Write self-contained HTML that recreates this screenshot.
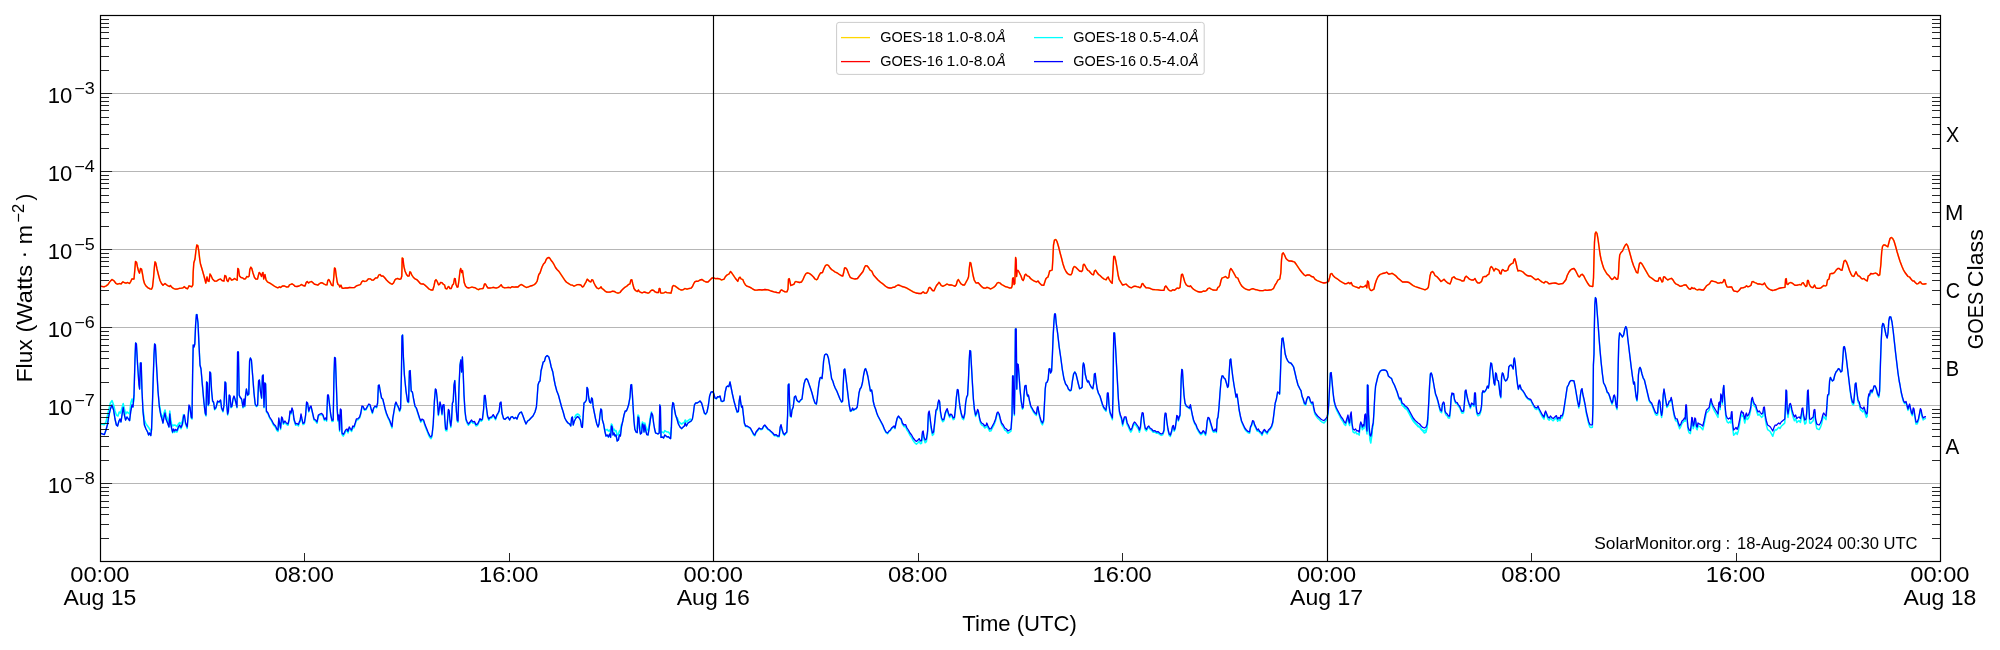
<!DOCTYPE html>
<html><head><meta charset="utf-8"><title>GOES X-ray Flux</title>
<style>html,body{margin:0;padding:0;background:#fff;overflow:hidden}body{width:2000px;height:650px;font-family:"Liberation Sans",sans-serif}svg{display:block;will-change:transform}</style></head>
<body>
<svg width="2000" height="650" viewBox="0 0 2000 650">
<rect width="2000" height="650" fill="#fff"/>
<g stroke="#b6b6b6" stroke-width="1" fill="none">
<line x1="100.5" x2="1940.5" y1="483.5" y2="483.5"/>
<line x1="100.5" x2="1940.5" y1="405.5" y2="405.5"/>
<line x1="100.5" x2="1940.5" y1="327.5" y2="327.5"/>
<line x1="100.5" x2="1940.5" y1="249.5" y2="249.5"/>
<line x1="100.5" x2="1940.5" y1="171.5" y2="171.5"/>
<line x1="100.5" x2="1940.5" y1="93.5" y2="93.5"/>
</g>
<polyline points="100.5,286.2 104.0,286.8 106.0,286.0 108.0,284.5 110.0,281.5 112.0,279.5 114.0,280.8 116.0,283.5 117.5,284.2 119.5,283.5 121.0,284.0 122.8,281.8 124.5,282.7 126.0,283.2 127.5,282.5 129.5,283.5 130.5,282.0 132.0,278.8 134.0,279.0 134.8,270.0 135.5,261.5 136.5,262.2 137.5,267.0 138.5,271.0 139.5,273.2 140.5,268.5 141.5,269.0 142.5,274.0 143.5,280.0 144.5,283.5 146.0,286.0 148.0,287.8 150.0,288.8 151.5,289.2 152.5,287.0 153.5,278.0 154.5,266.0 155.0,261.8 155.8,263.0 157.0,269.0 158.5,275.0 160.0,280.5 161.5,283.5 163.0,285.2 165.0,283.5 166.5,284.8 168.0,285.8 169.5,286.5 170.5,285.5 171.5,287.0 173.5,288.5 175.5,289.2 177.5,289.0 179.5,288.3 181.5,288.2 183.0,287.8 184.3,286.7 185.5,287.8 187.5,288.8 188.5,287.0 189.0,285.8 190.5,286.3 191.8,286.8 192.8,285.0 193.2,272.0 193.8,263.0 195.0,259.0 196.0,250.0 196.8,245.0 197.8,245.5 198.8,251.0 199.8,260.0 200.5,264.0 202.0,269.0 204.0,276.0 205.8,283.0 207.0,277.0 208.0,281.0 209.0,281.5 210.0,274.0 211.0,275.5 212.5,279.0 214.5,281.0 216.5,281.2 218.5,279.7 220.5,279.0 222.0,280.5 224.0,281.0 224.8,275.5 225.8,276.0 227.0,280.5 228.0,281.5 229.5,277.8 230.5,278.5 231.5,280.2 233.0,279.7 234.5,278.5 236.0,279.5 237.2,280.2 237.8,268.5 238.5,269.0 239.5,276.0 241.0,277.5 242.5,277.8 244.0,279.0 245.5,278.8 246.8,276.5 248.0,277.0 249.2,276.0 249.8,269.5 250.8,267.2 251.8,268.5 253.0,273.0 254.5,277.5 256.0,279.2 257.5,279.0 258.5,275.0 259.2,272.5 260.2,273.5 261.5,276.5 262.5,273.0 263.0,272.5 263.7,279.0 265.0,274.5 266.0,279.8 267.5,282.0 270.0,283.2 272.0,284.5 274.5,286.2 276.5,287.3 278.0,287.8 279.5,286.8 280.5,287.5 282.5,286.0 284.5,286.0 286.5,287.0 288.5,286.8 289.5,284.8 290.5,284.5 292.0,283.8 293.5,284.8 295.0,286.3 297.0,286.5 299.0,286.0 300.0,285.5 301.5,284.5 303.0,285.5 305.0,286.0 306.2,282.5 307.2,281.5 308.5,283.0 310.0,282.0 311.5,281.5 313.0,282.8 314.5,284.3 316.0,284.5 317.8,285.2 319.0,284.0 321.0,282.7 322.5,283.0 324.0,284.0 325.5,284.8 327.0,284.8 327.8,280.5 328.8,279.5 330.0,281.5 331.5,285.0 333.0,285.8 333.8,277.0 334.5,268.0 335.3,268.5 336.2,275.5 337.2,282.0 338.0,284.5 339.0,285.0 339.8,287.0 341.0,285.2 342.0,288.0 343.5,288.3 345.5,287.8 347.5,288.0 349.5,287.5 352.0,287.7 354.5,287.5 356.5,285.8 358.5,285.2 360.5,284.5 361.8,281.8 363.0,280.8 364.8,281.5 366.5,281.0 368.5,278.8 370.3,278.8 372.0,280.2 373.5,280.0 375.5,278.0 377.5,277.8 378.8,275.0 380.0,274.5 381.5,276.2 383.0,276.0 384.5,277.5 386.5,280.0 388.5,282.0 390.5,283.5 392.0,284.3 393.5,283.0 395.0,279.8 396.2,278.8 397.8,278.5 399.2,279.3 401.0,278.8 401.8,276.0 402.2,258.0 403.0,258.5 403.8,266.0 405.0,271.0 406.5,274.5 408.0,276.2 409.2,275.8 409.8,271.8 410.5,272.0 411.8,275.0 413.5,277.5 415.0,278.8 417.0,279.8 419.0,282.0 420.5,283.7 422.0,284.0 423.5,284.0 425.0,285.2 427.0,287.0 429.0,289.0 431.0,290.0 432.8,290.0 434.0,286.0 435.0,281.0 436.0,279.7 437.2,281.5 438.5,284.8 439.5,284.5 440.5,282.5 442.0,282.7 443.5,284.5 444.5,284.8 445.5,288.5 446.8,289.0 448.0,287.0 448.8,286.5 449.8,288.5 451.2,288.5 452.5,285.0 453.5,284.0 454.5,278.5 455.2,278.7 456.0,284.5 457.2,287.2 458.0,286.8 459.0,280.0 460.0,271.0 460.7,268.5 461.7,272.5 462.5,270.5 463.2,275.5 464.2,282.5 465.5,286.0 467.0,287.5 469.0,288.0 470.5,287.5 472.0,287.0 473.5,287.5 475.0,287.7 477.0,289.0 478.5,289.7 480.0,288.8 481.5,288.7 483.0,288.5 483.8,286.5 484.5,284.0 485.5,284.0 486.8,286.5 488.0,288.0 490.0,288.0 492.0,287.7 493.5,287.3 495.0,287.8 496.5,288.0 498.5,287.3 500.0,286.0 501.2,284.8 502.5,287.0 504.5,287.8 506.5,287.7 508.5,287.3 510.5,287.8 512.0,286.7 514.0,287.2 516.0,286.8 518.0,287.0 519.5,285.5 521.2,284.5 522.8,285.3 524.5,286.5 526.5,287.5 528.5,286.8 530.5,286.0 532.5,285.5 534.5,284.5 536.0,283.0 537.2,281.0 538.0,277.5 538.8,274.5 540.0,273.0 541.0,270.0 542.0,267.0 543.5,264.0 545.0,262.5 546.2,259.5 547.5,257.8 549.0,257.5 550.0,258.5 551.2,260.5 552.5,262.0 554.0,264.5 555.5,267.5 557.0,269.5 559.0,271.5 561.0,274.5 563.0,277.5 565.0,280.5 566.5,282.2 568.5,283.5 570.5,284.8 572.5,285.2 574.0,286.2 575.5,285.5 577.0,284.7 579.0,284.6 580.8,285.0 582.5,287.0 583.5,286.5 584.8,284.0 586.0,282.0 587.2,279.2 588.2,280.0 589.5,281.5 590.8,282.0 591.8,279.7 592.8,280.0 594.0,283.0 595.5,286.0 597.0,288.0 598.5,288.8 600.0,288.0 601.0,286.8 602.0,288.5 603.5,289.5 605.0,291.0 606.5,292.0 608.5,292.2 610.5,292.0 612.5,291.2 614.5,291.5 616.0,292.5 618.0,293.2 620.0,292.5 621.5,290.5 623.5,288.5 625.0,287.2 627.0,286.0 628.5,284.5 630.0,283.8 630.8,280.0 631.8,279.7 632.8,284.0 634.0,288.5 635.5,290.5 637.2,291.5 638.5,290.0 639.2,291.5 641.0,292.5 642.5,292.8 644.0,292.0 646.0,292.5 648.0,293.2 649.5,292.5 650.5,291.0 652.0,290.0 653.5,290.3 654.8,291.7 656.5,292.5 658.5,292.5 659.2,288.5 660.0,288.7 660.6,292.8 662.0,293.2 664.0,292.8 665.5,292.0 667.0,292.7 669.0,292.8 671.0,293.2 671.8,290.0 672.5,286.5 673.5,285.5 675.0,286.0 677.0,287.5 679.0,289.0 681.0,290.0 683.0,289.8 685.0,288.5 687.0,289.2 689.0,288.5 691.0,288.2 692.5,286.5 693.8,283.5 695.0,281.7 696.5,281.2 698.0,281.3 700.0,280.0 702.0,279.5 704.0,281.0 706.0,282.0 708.0,282.0 710.0,280.0 712.0,278.0 713.5,277.8 715.5,278.7 717.5,278.5 719.5,278.8 721.5,280.0 724.0,279.2 725.5,276.5 727.0,275.0 729.0,274.0 730.5,271.5 731.8,273.0 733.5,275.5 735.5,278.5 737.8,281.3 739.0,278.0 740.0,277.2 741.2,279.0 742.8,279.5 744.0,282.5 745.5,285.0 747.0,286.2 749.0,286.8 751.0,287.8 753.0,289.2 755.0,290.2 757.5,290.0 759.5,289.7 762.0,290.0 765.0,289.5 768.0,289.8 771.0,291.0 774.0,291.8 777.0,292.5 779.5,292.8 780.5,290.7 781.5,289.8 783.0,290.8 785.0,291.8 787.0,291.8 788.0,289.0 788.5,279.0 789.3,278.7 790.0,282.0 790.8,285.5 792.5,284.8 794.0,284.2 795.0,282.0 796.0,281.5 797.5,282.0 799.5,282.5 801.5,282.0 803.0,279.5 804.5,276.0 806.0,273.5 807.5,272.8 809.5,273.5 811.5,275.0 813.5,277.0 815.0,279.0 816.5,279.8 817.5,279.0 819.0,275.5 820.5,273.0 822.5,272.5 824.0,268.5 825.5,265.5 827.0,264.7 828.5,265.5 830.0,267.8 831.5,269.5 833.5,270.8 835.0,272.0 837.0,272.8 839.0,274.2 841.0,275.5 842.8,276.0 843.8,272.0 844.5,268.0 845.5,267.8 847.0,269.5 848.5,273.5 850.0,277.0 851.5,278.2 853.5,278.7 855.0,279.0 857.5,278.5 859.0,276.5 861.0,274.0 863.0,271.5 864.5,267.5 865.5,265.7 867.0,265.8 868.5,267.5 870.0,270.0 871.8,271.2 873.5,275.0 875.5,277.2 878.0,280.0 880.5,282.2 883.0,284.0 885.5,286.2 887.5,287.5 889.5,288.0 891.5,288.0 893.0,287.2 894.5,287.3 896.0,286.0 898.0,285.0 900.0,285.5 902.0,286.5 904.5,287.2 907.0,288.2 910.0,290.0 913.0,291.8 916.0,293.0 919.0,293.5 921.2,293.5 922.5,292.2 923.5,292.0 924.5,293.2 926.5,293.2 927.8,291.0 928.8,288.0 929.8,287.3 931.0,288.5 932.5,290.5 934.0,290.8 935.5,287.5 936.5,285.5 937.8,284.0 939.0,282.3 940.0,283.5 941.2,285.5 943.0,286.3 945.0,285.2 947.0,284.0 949.0,285.0 951.0,284.8 953.0,285.5 955.0,286.3 956.3,284.8 957.3,281.0 958.3,279.5 959.5,281.5 961.0,283.8 962.8,285.0 964.5,285.0 966.0,282.2 967.5,279.5 968.5,277.0 969.3,268.0 970.0,262.5 970.8,263.0 971.8,268.5 973.0,275.0 974.2,280.0 975.8,282.8 977.0,283.0 978.2,282.7 979.5,284.2 981.5,286.5 983.5,288.0 985.5,288.2 987.0,287.3 988.5,287.8 990.5,289.0 992.5,288.0 994.5,286.8 996.0,285.0 997.2,283.0 998.5,282.5 1000.0,283.0 1001.5,284.5 1003.5,285.5 1005.5,286.7 1007.5,287.2 1009.5,288.0 1011.5,287.8 1012.2,285.5 1012.6,278.5 1013.3,277.8 1014.0,284.5 1014.8,283.5 1015.2,270.0 1015.6,257.5 1016.2,260.0 1016.6,276.5 1017.2,270.5 1018.2,270.5 1019.5,273.0 1021.0,276.0 1022.2,279.5 1023.2,280.5 1024.0,278.5 1024.8,275.0 1025.8,274.2 1027.2,275.8 1029.0,276.5 1030.5,278.5 1032.5,280.0 1034.5,281.2 1036.5,282.0 1038.0,281.0 1039.5,283.0 1041.5,285.0 1043.8,285.3 1044.8,282.0 1045.8,279.0 1046.8,277.7 1048.0,277.0 1049.0,273.5 1049.7,270.8 1051.0,270.5 1052.2,270.0 1052.8,260.0 1053.5,245.0 1054.5,240.0 1055.8,239.5 1057.0,241.5 1058.5,246.5 1060.0,252.5 1061.5,258.0 1063.0,264.0 1064.5,268.5 1066.0,271.5 1067.5,273.5 1069.0,274.5 1071.0,274.8 1072.0,273.0 1073.0,268.5 1074.2,266.5 1075.5,267.0 1077.5,269.0 1079.5,271.0 1081.5,271.5 1082.5,270.5 1083.2,265.0 1084.0,264.2 1085.0,265.5 1086.5,268.5 1088.0,270.5 1089.2,271.0 1090.5,272.8 1092.0,274.3 1093.5,274.8 1094.5,271.0 1095.5,270.2 1097.0,272.5 1098.5,274.5 1100.0,275.5 1102.0,277.5 1104.0,279.0 1106.2,279.8 1107.2,277.8 1108.2,277.0 1109.2,279.5 1110.8,282.0 1112.2,283.3 1113.0,270.0 1113.7,256.5 1114.7,256.3 1115.8,261.0 1117.0,268.0 1118.2,275.5 1119.2,279.5 1121.0,282.5 1122.5,285.0 1124.5,284.5 1126.0,284.0 1127.5,285.5 1129.5,287.2 1131.5,287.8 1133.5,286.5 1135.0,286.2 1137.0,286.7 1138.5,287.0 1140.0,287.8 1141.2,286.5 1141.8,284.0 1142.8,283.5 1144.0,285.5 1146.0,287.8 1148.0,287.8 1150.0,288.3 1152.5,289.5 1155.0,289.7 1158.0,289.8 1161.0,290.3 1164.0,290.3 1164.8,287.0 1165.8,286.0 1167.0,287.5 1168.5,289.8 1170.0,290.8 1171.5,290.8 1172.8,289.7 1174.5,290.3 1176.0,289.0 1177.2,288.0 1178.5,288.5 1180.0,287.5 1180.8,280.0 1181.5,274.5 1182.5,274.2 1183.5,277.5 1184.8,282.0 1186.2,284.8 1188.0,286.2 1189.5,286.5 1190.5,285.8 1191.8,287.5 1193.5,289.2 1195.5,290.5 1197.5,291.5 1199.5,292.0 1201.5,292.0 1203.5,291.0 1205.0,291.3 1206.5,290.5 1208.0,288.5 1209.5,288.0 1211.0,289.0 1213.0,290.0 1215.0,290.2 1216.8,290.0 1217.8,287.5 1219.0,286.8 1220.0,285.0 1221.0,280.5 1222.0,278.0 1223.5,277.5 1225.5,276.5 1227.5,278.2 1228.8,277.5 1229.8,270.5 1230.8,268.5 1232.0,270.0 1233.5,272.5 1235.0,275.3 1236.2,277.5 1237.8,278.0 1239.0,281.0 1240.5,284.0 1242.0,286.3 1244.0,288.0 1246.0,289.2 1248.0,289.8 1249.5,290.0 1251.0,289.2 1253.0,288.7 1255.0,289.5 1257.0,289.8 1259.0,290.5 1261.0,290.7 1263.0,290.7 1265.0,290.0 1267.0,290.3 1269.5,290.0 1271.5,289.8 1273.5,288.5 1275.0,285.2 1276.5,282.8 1278.0,280.0 1279.8,279.0 1280.8,273.0 1281.5,260.0 1282.2,254.0 1283.2,252.8 1284.5,255.0 1286.0,258.5 1287.5,260.0 1289.0,261.0 1291.0,261.0 1293.0,261.5 1294.5,262.0 1296.0,264.0 1298.0,267.0 1300.0,270.0 1302.0,272.5 1304.0,274.8 1305.5,275.8 1307.5,274.8 1309.5,275.0 1311.5,276.5 1313.5,277.0 1315.0,279.2 1317.0,280.5 1319.5,281.5 1321.5,282.3 1324.0,283.0 1326.5,282.5 1328.5,281.5 1329.5,278.0 1330.5,274.0 1331.8,273.5 1333.0,275.5 1335.0,277.5 1337.5,279.0 1340.0,281.0 1342.5,282.5 1345.0,283.8 1347.0,283.5 1348.5,282.5 1350.0,283.8 1351.2,282.5 1352.5,285.5 1354.5,286.5 1357.0,287.3 1359.0,288.2 1360.5,286.3 1362.5,287.2 1364.5,286.5 1365.8,285.3 1366.8,287.8 1367.5,281.0 1368.5,282.0 1369.2,288.0 1370.5,290.3 1371.8,290.5 1374.0,289.0 1375.0,284.5 1376.5,280.0 1378.0,276.8 1380.0,274.5 1382.5,273.5 1385.0,273.0 1386.8,272.2 1388.5,274.0 1390.0,274.0 1392.0,273.3 1394.0,274.5 1396.0,276.0 1398.0,278.2 1400.0,279.8 1402.5,282.0 1405.0,281.8 1407.0,282.0 1409.0,282.5 1411.0,284.0 1413.0,285.5 1415.0,286.5 1417.5,287.3 1420.0,288.2 1422.5,289.0 1425.0,289.8 1426.8,289.0 1428.3,287.5 1429.2,282.0 1430.0,276.0 1431.0,272.5 1432.5,271.5 1433.8,273.0 1435.0,275.5 1437.0,276.8 1439.0,279.0 1441.0,281.5 1442.5,280.5 1444.0,279.3 1445.5,281.0 1447.5,282.8 1450.0,284.0 1451.2,281.0 1452.0,278.0 1454.0,276.8 1455.5,278.5 1457.5,279.2 1460.0,279.8 1462.0,281.0 1464.0,280.8 1465.0,277.5 1466.2,276.2 1467.8,277.5 1469.5,279.2 1471.5,280.0 1473.5,280.0 1475.0,278.5 1476.2,281.0 1477.5,282.8 1479.5,283.0 1481.5,281.5 1483.0,277.0 1484.5,276.5 1486.0,276.5 1487.5,275.0 1489.0,274.0 1490.0,268.5 1491.2,266.5 1492.5,267.8 1494.0,271.0 1495.5,268.5 1497.5,269.5 1499.0,270.5 1500.0,273.5 1501.0,274.0 1501.8,270.5 1502.8,269.5 1504.5,271.0 1506.0,271.0 1507.8,270.0 1508.8,266.5 1510.5,264.5 1512.0,263.5 1513.2,263.0 1514.0,259.5 1514.8,258.8 1515.8,262.0 1517.0,267.5 1518.0,271.0 1519.5,270.5 1521.0,271.0 1523.0,272.0 1525.0,274.0 1527.0,275.5 1529.0,276.0 1530.5,275.8 1532.0,276.8 1534.0,278.5 1535.8,279.8 1538.0,278.8 1540.0,280.5 1542.0,282.0 1544.0,283.0 1545.5,281.5 1547.0,282.0 1549.0,283.8 1551.0,283.5 1553.0,283.2 1555.0,283.0 1557.0,283.5 1558.5,284.3 1560.5,283.8 1562.8,283.5 1564.5,281.5 1566.0,279.5 1567.2,275.5 1569.0,272.0 1570.5,270.0 1572.0,269.0 1574.0,268.5 1575.5,270.5 1577.0,273.5 1578.5,276.5 1579.5,277.0 1580.8,275.0 1582.2,274.2 1583.8,276.0 1585.5,279.5 1587.5,283.0 1589.5,285.8 1591.5,286.3 1592.8,286.5 1593.5,278.0 1594.0,258.0 1594.5,242.0 1595.2,233.5 1596.0,232.0 1597.0,233.5 1598.0,239.0 1599.0,246.5 1600.0,254.0 1601.2,260.0 1602.5,264.5 1603.8,268.5 1605.5,271.5 1607.0,274.0 1609.0,275.8 1610.5,278.0 1612.0,279.5 1613.5,278.5 1614.5,277.0 1615.5,277.8 1616.5,279.3 1617.8,279.0 1618.5,274.0 1619.0,263.0 1619.7,255.0 1621.0,252.5 1622.5,251.0 1624.0,247.5 1625.5,244.8 1626.5,244.0 1627.8,246.0 1629.0,250.0 1630.5,255.5 1632.0,261.0 1633.5,265.5 1635.0,269.0 1636.5,272.5 1637.8,273.0 1638.5,268.5 1639.5,263.5 1640.5,262.5 1642.0,264.0 1644.0,267.5 1646.0,271.0 1648.0,274.5 1649.5,276.8 1651.5,278.0 1653.5,279.5 1655.0,280.7 1657.0,281.3 1658.2,281.0 1659.0,278.0 1660.0,277.5 1661.0,279.8 1662.0,282.0 1662.8,281.5 1663.5,277.0 1664.5,276.8 1666.0,278.5 1667.8,280.0 1669.5,279.0 1671.5,278.3 1672.8,279.7 1674.5,282.5 1676.0,284.0 1678.0,284.8 1680.0,286.3 1682.0,286.0 1684.0,285.0 1686.0,284.8 1687.5,287.0 1689.0,288.8 1690.5,289.3 1691.8,287.5 1693.0,288.5 1694.5,288.2 1696.0,289.5 1697.5,290.0 1699.0,289.3 1700.0,289.5 1702.0,290.0 1703.5,290.0 1705.0,288.0 1706.5,285.8 1708.0,284.8 1709.5,283.8 1710.8,281.5 1711.8,280.8 1713.5,281.3 1715.5,281.8 1717.5,283.0 1719.0,283.2 1720.5,282.5 1722.0,282.8 1723.2,281.8 1724.0,279.5 1724.8,280.0 1725.8,284.0 1727.0,286.8 1728.5,287.2 1730.0,287.0 1731.8,287.0 1732.8,289.5 1734.0,291.0 1735.8,291.3 1737.5,291.8 1739.0,290.5 1741.0,288.0 1742.5,287.8 1744.0,287.5 1745.5,286.8 1746.5,285.8 1747.8,286.8 1749.5,286.3 1751.0,285.2 1752.0,281.8 1753.0,281.5 1754.5,282.5 1756.0,283.0 1757.8,284.0 1759.5,283.8 1761.5,284.5 1763.0,284.5 1764.5,283.0 1765.8,285.5 1767.2,287.5 1769.0,289.0 1771.0,290.0 1772.8,290.5 1774.5,290.0 1776.5,289.5 1778.5,288.5 1780.5,288.0 1782.5,287.7 1785.0,287.3 1785.6,279.0 1786.3,278.7 1786.8,284.0 1787.8,284.5 1789.2,283.0 1790.8,282.5 1792.5,283.3 1794.5,285.0 1796.0,285.3 1798.0,285.0 1799.5,284.5 1801.0,285.0 1802.2,283.0 1803.2,282.7 1804.5,284.8 1805.8,286.5 1806.8,286.0 1807.5,280.5 1808.3,280.5 1809.2,284.0 1810.5,286.5 1812.0,287.5 1813.2,287.5 1814.5,285.0 1815.8,287.8 1817.5,288.3 1819.5,288.3 1821.0,287.8 1822.5,286.5 1823.8,285.5 1825.2,286.0 1826.5,285.5 1827.5,280.0 1829.0,279.0 1830.0,274.0 1831.2,273.5 1833.0,273.5 1834.5,272.5 1836.2,270.0 1837.8,268.5 1839.2,268.5 1840.5,269.8 1842.0,270.3 1843.2,265.0 1844.0,261.2 1845.2,260.3 1846.5,262.0 1848.0,266.0 1849.5,270.5 1851.0,274.0 1852.2,276.0 1853.8,276.5 1855.0,274.0 1856.0,271.8 1857.0,274.0 1858.2,275.8 1859.5,276.2 1861.0,278.0 1862.2,279.0 1863.8,278.5 1865.5,280.0 1867.2,281.0 1868.2,276.0 1869.5,275.3 1870.8,273.5 1872.5,273.8 1874.0,273.5 1875.5,273.0 1877.0,273.8 1878.5,275.5 1879.7,275.0 1880.8,265.0 1881.7,252.0 1882.5,246.5 1883.5,245.0 1885.0,245.0 1886.5,246.0 1887.8,246.8 1888.8,243.0 1890.0,238.5 1891.2,237.5 1892.5,238.2 1894.0,241.0 1895.5,246.0 1897.0,251.5 1898.5,256.5 1900.0,261.2 1902.0,266.5 1903.5,270.0 1905.0,272.5 1906.5,274.5 1908.0,276.5 1909.5,277.0 1911.0,279.0 1912.5,280.8 1914.0,281.0 1915.5,282.8 1917.0,284.0 1918.5,283.5 1919.5,282.2 1920.5,281.8 1921.5,283.5 1923.0,284.2 1924.5,284.0 1926.5,283.7" fill="none" stroke="#ffd700" stroke-width="1.6" stroke-linejoin="round" />
<polyline points="100.8,433.4 104.4,434.6 106.0,430.0 107.6,424.0 109.0,415.0 110.4,409.0 112.0,405.0 113.6,410.0 115.0,419.0 116.4,425.0 117.6,426.0 119.0,421.0 120.0,419.0 121.0,422.0 122.0,415.0 123.2,407.4 124.4,415.0 125.6,420.0 127.0,417.0 128.4,419.0 129.6,420.6 130.8,411.0 132.0,405.0 133.0,407.0 134.0,395.0 135.0,359.0 135.6,343.0 136.4,344.0 137.6,365.0 139.0,385.0 139.6,389.0 140.4,363.0 141.2,363.0 142.0,391.0 143.0,411.0 144.4,425.0 146.0,429.0 147.6,432.0 148.6,435.0 149.6,433.0 150.8,435.6 151.6,429.0 152.4,405.0 153.2,379.0 154.0,355.0 154.6,344.0 155.4,345.0 156.6,367.0 158.0,391.0 159.4,407.0 160.8,415.0 162.0,419.0 163.0,423.0 164.0,417.0 165.0,413.0 166.0,419.0 167.6,423.0 169.0,427.0 169.8,414.0 170.6,423.2 171.6,428.5 172.6,432.8 173.6,430.1 174.6,432.4 175.6,430.9 177.0,432.1 178.4,428.4 179.6,426.4 181.0,428.8 182.4,425.3 183.6,417.1 184.4,416.0 185.6,424.3 187.2,428.4 188.2,416.0 189.0,405.7 190.0,407.8 191.2,418.1 192.0,419.1 192.6,375.0 193.2,345.0 194.0,347.0 194.8,344.0 195.6,325.0 196.4,314.6 197.0,314.6 198.0,323.0 199.0,345.0 200.0,365.0 201.0,369.0 202.4,385.1 204.0,403.6 205.2,414.0 206.0,416.0 206.6,382.0 207.4,383.0 208.2,405.7 209.0,403.6 209.8,372.0 210.6,373.0 211.6,391.3 212.6,401.6 213.6,402.6 214.6,409.8 216.0,408.2 217.6,401.6 219.0,402.6 220.6,400.6 221.6,408.8 223.0,411.9 224.0,405.7 225.0,382.0 225.8,383.0 226.6,403.6 227.6,415.0 228.4,411.9 229.2,395.4 230.0,396.4 231.0,407.8 232.0,406.7 233.0,399.5 234.0,396.4 235.0,399.5 236.0,403.6 237.0,407.8 237.6,352.0 238.4,352.0 239.2,395.4 240.0,397.5 241.6,399.5 243.0,407.8 244.0,399.5 244.8,406.7 245.6,395.4 246.4,389.2 247.6,395.4 248.8,394.4 249.6,361.0 250.4,358.0 251.4,360.0 252.6,375.0 254.0,393.3 255.2,404.7 256.4,406.7 257.6,405.7 258.6,381.0 259.4,380.0 260.4,391.3 261.6,398.5 262.4,376.0 263.2,375.0 264.0,407.8 264.8,383.0 265.6,384.0 266.4,411.9 268.0,414.0 269.6,418.1 271.6,421.2 273.6,425.3 275.6,427.4 276.8,430.5 278.0,431.5 278.8,419.1 279.6,424.3 280.6,429.5 281.6,418.1 282.4,419.1 283.4,424.3 285.0,422.2 286.4,424.3 288.0,425.3 289.2,420.2 290.0,411.9 291.0,414.0 292.0,408.8 293.0,411.9 294.0,420.2 295.6,425.3 297.0,424.7 298.4,426.0 299.6,422.2 300.0,422.2 301.0,415.0 302.0,420.2 303.0,424.7 304.4,423.9 305.6,416.0 306.6,402.6 307.6,403.6 308.8,411.9 310.0,407.8 311.0,406.7 312.4,412.9 314.0,420.2 315.6,421.2 317.0,423.3 318.4,416.0 320.0,415.0 321.6,414.4 323.0,416.0 324.4,420.6 325.6,419.1 326.6,421.2 327.6,395.4 328.4,395.4 329.6,405.7 330.8,416.0 332.0,421.6 333.2,421.2 334.0,375.0 334.6,357.4 335.4,358.0 336.2,381.0 337.2,409.8 338.0,421.2 338.8,416.0 339.6,431.5 340.4,409.8 341.2,410.9 342.0,434.6 343.2,436.1 344.4,434.2 345.6,431.5 347.0,430.5 348.0,433.0 349.2,428.4 350.4,430.1 351.6,431.5 352.8,427.4 354.0,428.0 355.2,424.3 356.4,420.2 358.0,419.8 359.6,418.1 360.8,414.0 362.0,406.7 363.2,407.4 364.4,410.3 366.0,409.8 367.6,406.7 368.8,404.7 370.0,405.3 371.2,409.8 372.4,413.6 373.6,408.8 375.0,406.7 376.6,407.8 377.6,403.6 378.4,385.5 379.2,385.1 380.4,392.3 381.6,398.5 382.8,399.5 384.0,404.7 385.2,409.8 386.4,414.0 388.0,418.1 389.6,421.2 391.0,425.3 392.0,428.0 392.8,419.1 394.0,411.9 395.2,404.7 396.0,402.6 397.2,405.7 398.4,407.8 399.6,411.5 400.6,408.8 401.4,375.0 402.0,336.0 402.6,335.0 403.4,357.0 404.4,375.0 406.0,391.3 407.6,402.0 408.6,402.6 409.4,371.0 410.2,370.6 411.2,391.3 412.4,392.3 413.6,399.5 415.0,406.7 416.4,408.8 418.0,414.0 419.6,419.1 420.8,422.2 422.0,420.2 423.6,421.2 425.0,426.0 426.4,429.5 428.0,433.6 429.6,437.3 431.0,438.8 432.0,436.7 433.2,425.3 434.4,401.6 435.4,389.2 436.2,390.2 437.2,399.5 438.4,415.6 439.2,409.8 440.0,402.6 441.0,406.7 442.0,415.0 442.8,405.7 444.0,405.3 444.8,420.2 445.6,430.5 446.8,430.9 447.6,420.2 448.4,410.3 449.2,411.5 450.0,422.2 450.8,427.4 451.6,420.2 452.4,403.6 453.2,402.0 454.0,385.1 454.8,380.6 455.6,395.4 456.4,411.9 457.2,421.2 458.0,422.2 459.0,387.1 460.0,365.0 460.8,360.0 461.6,372.0 462.4,357.0 463.2,373.0 464.0,395.4 465.0,411.9 466.0,420.2 467.2,423.3 468.4,425.3 470.0,423.3 471.6,421.2 473.0,423.3 474.4,422.6 476.0,426.0 477.6,425.3 479.0,422.2 480.0,419.8 481.2,421.2 482.4,420.2 483.6,409.8 484.4,395.8 485.2,395.8 486.4,407.8 487.6,417.1 488.8,420.2 490.0,418.5 491.6,418.1 493.2,415.6 494.4,417.7 495.6,419.8 496.8,416.0 498.0,414.0 499.2,411.5 500.0,403.6 501.0,402.5 502.0,413.6 503.6,418.9 505.0,419.4 506.4,418.0 508.0,417.0 509.6,420.0 511.0,417.0 512.4,416.6 514.0,418.6 515.6,417.4 517.0,419.0 518.4,415.0 520.0,412.6 521.4,412.0 523.0,416.0 524.4,420.0 526.0,424.0 527.6,421.0 529.2,420.0 531.0,418.0 533.0,416.0 535.0,412.0 536.4,407.0 537.2,397.0 538.0,385.0 539.0,382.0 540.0,381.0 541.0,371.0 542.0,367.0 543.2,362.0 544.4,361.4 545.6,357.0 547.2,355.6 548.8,357.0 550.0,361.4 551.2,367.0 552.8,372.0 554.0,379.0 555.2,385.0 556.8,391.0 558.4,395.0 560.0,401.0 561.6,407.0 563.2,412.0 564.8,418.0 566.4,421.0 568.0,423.0 569.6,424.0 570.8,426.0 571.6,418.0 572.4,417.0 573.2,425.0 574.4,421.0 576.0,418.0 577.6,416.6 579.2,418.0 580.4,420.0 581.6,427.0 582.4,427.4 583.2,415.0 584.0,403.0 585.2,402.0 586.4,400.0 587.0,387.4 587.8,389.0 588.6,397.0 589.6,402.0 590.8,403.0 591.6,398.0 592.4,399.0 593.2,407.0 594.4,413.0 595.6,419.0 596.8,424.0 598.0,427.0 599.0,424.0 600.0,415.0 600.8,409.0 601.6,410.0 602.4,420.0 603.6,424.0 604.8,431.0 606.0,436.0 607.2,435.0 608.4,437.0 609.6,434.0 610.6,437.4 611.4,426.0 612.2,427.0 613.0,435.0 614.0,433.0 615.0,436.0 616.0,435.0 617.2,441.0 618.4,440.0 619.4,435.0 620.4,436.0 621.6,426.0 622.8,421.0 624.0,415.0 625.2,411.0 626.4,411.0 627.6,408.0 628.8,404.0 630.0,397.0 630.8,385.0 631.6,384.6 632.4,395.0 633.2,409.0 634.0,421.0 634.8,429.0 636.0,432.0 637.2,432.6 638.0,417.0 638.8,418.0 639.6,429.0 640.4,434.0 641.6,433.0 642.4,424.0 643.2,425.0 644.0,432.0 644.8,425.0 645.6,430.0 646.8,434.6 648.0,435.0 649.2,428.0 650.4,419.0 651.6,413.0 652.6,415.0 653.6,423.0 654.6,429.0 655.6,433.0 656.8,433.4 658.0,434.0 659.2,433.0 659.8,405.0 660.4,407.0 661.0,437.4 662.4,437.0 663.6,438.0 664.8,435.0 666.0,436.0 667.2,437.0 668.4,436.6 669.6,438.0 670.6,438.6 671.4,427.0 672.0,409.0 672.8,402.6 673.6,403.4 674.4,409.0 675.6,415.0 677.0,419.0 678.4,424.0 680.0,427.0 681.6,428.6 683.2,427.0 684.4,426.0 685.2,423.0 686.4,426.0 688.0,423.0 689.6,422.0 691.2,421.0 692.4,419.0 693.4,413.0 694.4,405.0 695.6,403.0 697.2,403.0 698.8,402.0 700.0,401.0 701.6,403.1 703.0,408.2 704.4,413.4 705.6,414.5 707.0,412.4 708.4,405.3 709.6,396.2 711.0,392.1 712.4,391.7 713.6,393.1 715.0,398.2 716.4,398.8 717.6,396.8 718.8,397.2 720.0,396.2 721.2,401.3 722.4,401.7 724.0,400.9 725.2,392.1 726.4,387.1 727.6,386.0 728.8,386.7 730.0,382.0 731.0,387.1 732.4,394.2 734.0,401.3 735.6,407.4 737.2,412.4 738.4,411.8 739.2,401.3 740.0,396.2 740.8,403.3 741.6,407.4 742.4,406.3 743.2,413.4 744.4,423.6 745.6,426.6 747.2,426.6 748.8,427.7 750.4,428.7 752.0,431.7 753.6,434.8 754.8,435.8 756.0,432.7 757.6,430.7 759.2,428.7 760.8,429.7 762.4,429.3 763.6,426.6 764.8,425.6 766.4,427.7 768.0,429.7 769.6,430.7 771.2,432.3 772.8,433.8 774.4,435.8 776.0,435.4 777.6,436.8 779.2,436.8 780.2,427.7 781.0,425.2 782.0,429.7 783.2,433.8 784.4,435.4 785.6,433.8 786.8,432.7 787.6,415.5 788.2,385.0 789.0,384.0 789.6,403.3 790.4,416.5 791.2,417.1 792.0,410.4 793.2,407.4 794.4,397.2 795.6,396.2 796.8,400.3 798.0,401.7 799.2,402.3 800.6,400.3 802.0,399.2 803.0,391.1 804.0,384.0 805.2,380.0 806.4,378.6 807.6,380.0 809.0,384.0 810.4,388.1 812.0,393.1 813.6,399.2 815.0,403.3 816.4,404.3 817.2,399.2 818.0,391.1 819.0,383.0 820.0,378.0 821.0,377.4 822.0,378.6 822.8,371.0 823.6,361.0 824.6,355.0 826.0,354.0 827.2,354.6 828.4,358.0 829.6,365.0 830.8,373.0 831.6,378.6 832.8,381.0 834.0,385.0 835.2,388.1 836.8,391.1 838.4,395.2 840.0,399.2 841.6,402.3 842.6,401.3 843.2,385.0 844.0,370.0 844.8,369.0 845.6,375.0 846.8,385.0 848.0,395.2 849.2,405.3 850.4,411.4 851.6,411.0 852.6,408.4 853.6,410.4 854.8,409.4 856.0,409.0 857.2,407.4 858.0,401.3 859.0,393.1 860.0,389.1 861.2,387.5 862.4,383.0 863.6,375.0 864.8,369.4 865.6,368.6 866.8,372.0 868.0,377.0 869.2,384.0 870.4,391.1 871.6,390.1 872.4,394.2 873.2,401.3 874.4,406.3 875.6,409.4 876.8,413.4 878.0,416.5 879.6,419.5 881.2,422.6 882.8,425.6 884.4,429.7 886.0,432.7 887.6,433.8 889.0,431.7 890.4,430.7 891.6,428.7 892.8,427.7 894.0,426.6 895.0,428.7 896.0,423.6 897.2,418.5 898.4,416.5 900.0,418.5 901.2,419.8 902.4,424.2 904.0,426.7 905.6,426.6 907.0,430.1 908.4,432.2 910.0,435.4 911.6,437.5 913.2,440.6 914.8,442.7 916.4,444.2 918.0,442.7 919.2,441.2 920.4,443.8 921.6,443.3 922.4,434.3 923.2,433.3 924.0,439.6 925.2,442.7 926.4,441.7 927.6,433.3 928.4,414.4 929.2,412.3 930.0,418.6 931.2,429.1 932.4,435.4 933.6,434.3 934.8,422.8 936.0,411.3 937.2,409.8 938.0,403.9 938.8,400.8 939.6,402.3 940.4,412.3 941.6,419.7 942.8,421.8 944.0,420.7 945.2,414.4 946.4,411.3 947.2,409.8 948.4,414.4 949.6,417.6 950.8,415.5 952.0,416.5 953.2,419.7 954.4,419.0 955.4,410.2 956.4,397.7 957.4,389.7 958.2,390.3 959.0,399.8 960.0,408.1 961.2,414.4 962.4,418.6 963.6,419.7 964.8,414.4 965.6,403.9 966.6,397.7 967.6,395.6 968.4,381.0 969.2,361.0 969.8,350.6 970.6,351.0 971.4,365.0 972.4,383.0 973.4,399.8 974.4,410.2 975.6,416.5 976.6,414.4 977.6,410.7 978.4,412.3 979.4,418.6 980.4,422.8 981.6,424.9 983.2,425.9 984.8,428.0 986.0,427.4 986.8,424.9 988.0,428.0 989.6,431.2 991.0,430.8 992.4,428.0 994.0,424.9 995.6,420.7 997.0,414.4 998.0,413.4 999.2,415.5 1000.4,420.7 1001.6,424.9 1003.2,427.0 1004.8,430.1 1006.4,431.2 1008.0,433.3 1009.6,432.2 1011.0,431.2 1012.0,416.5 1012.6,376.0 1013.2,376.0 1013.8,406.0 1014.4,415.5 1015.0,375.0 1015.4,329.0 1016.2,329.0 1016.8,389.3 1017.4,364.0 1018.2,364.6 1019.0,375.0 1020.0,389.3 1021.2,401.9 1022.4,409.2 1023.2,408.1 1024.0,395.6 1024.8,386.1 1026.0,385.5 1026.8,393.5 1027.6,396.6 1028.4,395.6 1029.6,401.9 1030.8,407.1 1032.0,409.2 1033.6,412.3 1035.2,414.4 1036.4,415.5 1037.4,408.1 1038.0,407.7 1038.8,413.4 1040.0,418.6 1041.2,422.8 1042.4,424.9 1043.6,421.8 1044.4,406.0 1045.2,389.3 1046.0,383.0 1047.2,382.0 1048.2,379.0 1049.0,369.0 1049.8,368.6 1050.6,373.0 1051.6,371.0 1052.4,355.0 1053.2,335.0 1054.0,321.0 1054.6,314.0 1055.4,314.0 1056.2,323.0 1057.6,333.0 1059.2,347.0 1060.8,358.0 1062.4,370.0 1064.0,379.0 1065.6,384.0 1067.2,386.1 1068.4,389.3 1070.0,391.0 1071.2,390.3 1072.4,381.0 1073.6,374.0 1074.8,372.0 1076.0,374.0 1077.2,379.0 1078.4,384.0 1079.6,388.9 1081.2,388.2 1082.2,387.2 1082.8,367.0 1083.4,363.0 1084.2,365.0 1085.2,374.0 1086.4,379.0 1087.6,382.0 1088.6,381.0 1089.6,384.0 1091.2,387.2 1092.8,388.9 1093.8,383.0 1094.4,374.0 1095.2,373.4 1096.0,381.0 1097.2,389.3 1098.4,393.5 1100.0,396.6 1101.2,400.8 1102.4,405.0 1103.6,408.1 1104.8,409.8 1106.0,411.3 1106.8,403.9 1107.4,393.5 1108.2,393.5 1109.0,406.0 1110.0,413.4 1111.2,416.5 1112.4,419.7 1113.0,395.6 1113.4,355.0 1113.8,333.0 1114.6,333.0 1115.4,345.0 1116.4,363.0 1117.4,381.0 1118.4,399.8 1119.4,412.3 1120.4,416.5 1121.6,419.7 1122.6,425.9 1123.6,421.8 1124.4,418.6 1126.0,418.6 1127.2,424.9 1128.4,427.0 1129.6,430.1 1130.8,432.2 1132.0,430.1 1133.2,425.9 1134.4,423.9 1135.6,424.9 1137.0,427.0 1138.4,429.1 1139.4,432.2 1140.4,429.1 1141.4,418.5 1142.2,413.9 1143.2,414.2 1144.0,422.5 1145.2,429.7 1146.4,431.0 1147.6,428.4 1148.8,427.3 1150.0,429.2 1151.6,430.3 1153.2,432.3 1154.8,431.9 1156.4,433.3 1158.0,432.9 1159.6,434.4 1161.2,435.4 1162.8,434.8 1164.0,431.3 1164.6,417.9 1165.2,413.8 1166.0,414.2 1166.8,422.0 1168.0,430.3 1169.2,435.4 1170.4,436.4 1171.6,432.3 1172.6,427.2 1173.4,426.6 1174.2,431.3 1175.2,429.2 1176.2,422.0 1176.8,416.3 1177.6,416.9 1178.4,421.0 1179.2,417.9 1180.0,415.9 1180.6,399.4 1181.2,379.0 1181.8,369.4 1182.4,370.0 1183.2,383.0 1184.0,395.3 1185.0,403.6 1186.4,406.6 1188.0,407.7 1189.4,408.7 1190.4,405.2 1191.2,409.7 1192.4,415.9 1193.6,421.0 1194.8,424.1 1196.0,425.7 1197.2,429.2 1198.4,431.3 1199.6,433.3 1200.8,434.8 1202.0,434.0 1203.2,431.9 1204.4,433.3 1205.6,435.4 1206.4,430.3 1207.2,422.0 1208.0,418.3 1209.2,419.0 1210.4,423.1 1211.6,427.2 1212.8,431.3 1214.0,432.3 1215.2,430.3 1216.4,432.7 1217.2,420.0 1218.0,417.9 1219.0,407.7 1220.0,393.3 1221.0,381.0 1222.0,376.0 1223.0,376.0 1224.0,378.0 1225.2,379.0 1226.4,383.0 1227.6,387.5 1228.4,386.1 1229.2,373.0 1230.0,360.0 1230.8,359.0 1231.6,367.0 1232.8,377.0 1234.0,385.1 1235.2,392.2 1236.0,397.4 1237.0,394.3 1238.0,401.5 1239.2,410.7 1240.4,416.9 1241.6,422.0 1243.2,425.7 1244.8,429.2 1246.4,431.3 1248.0,432.7 1249.6,433.3 1250.4,428.2 1251.6,425.7 1252.6,421.6 1253.6,422.0 1254.6,425.7 1256.0,428.6 1257.2,431.3 1258.4,430.3 1259.6,432.7 1260.8,433.3 1262.0,435.4 1263.2,432.3 1264.4,430.7 1265.6,432.3 1267.2,434.0 1268.4,431.3 1270.0,429.9 1271.6,427.2 1272.8,423.1 1274.0,413.8 1275.2,403.6 1276.4,399.4 1277.6,392.2 1278.8,392.9 1279.6,394.3 1280.4,375.0 1281.2,351.0 1282.0,338.6 1283.0,338.0 1284.0,345.0 1285.2,354.0 1286.4,358.0 1287.6,360.6 1289.2,362.6 1290.8,363.0 1292.4,365.0 1293.6,367.0 1294.8,372.0 1296.4,379.0 1298.0,385.1 1300.0,389.2 1301.0,390.9 1302.0,396.5 1303.2,399.8 1304.4,404.2 1305.6,405.3 1306.8,400.0 1308.0,397.5 1309.2,397.9 1310.4,402.1 1311.6,404.2 1312.8,403.2 1313.6,408.5 1314.8,413.8 1316.0,415.9 1317.6,418.1 1319.2,419.5 1320.8,421.2 1322.4,422.3 1324.0,423.0 1325.6,421.2 1327.0,419.1 1328.0,414.9 1328.8,404.2 1329.6,387.2 1330.4,373.0 1331.2,372.6 1332.0,381.0 1333.0,392.6 1334.0,401.1 1335.2,406.4 1336.4,409.6 1338.0,412.8 1339.6,415.9 1341.2,419.1 1342.8,421.2 1344.4,424.4 1345.6,425.5 1346.8,421.2 1348.0,417.0 1348.8,423.4 1349.6,425.5 1350.4,417.0 1351.2,413.8 1352.0,425.5 1353.0,431.9 1354.4,432.9 1355.6,431.9 1356.8,434.0 1358.0,433.6 1359.2,435.1 1360.0,427.6 1360.8,424.4 1361.6,426.6 1362.4,429.8 1363.2,427.2 1364.0,428.7 1364.8,417.0 1365.6,415.9 1366.4,429.8 1367.0,434.0 1367.4,385.1 1368.0,385.5 1368.6,417.0 1369.2,429.8 1370.0,438.2 1370.8,439.3 1371.6,436.1 1372.4,428.7 1373.2,425.5 1374.0,412.8 1374.8,395.8 1375.6,386.2 1376.8,381.0 1378.0,376.0 1379.2,373.0 1380.4,371.0 1382.0,370.2 1384.0,370.0 1386.0,370.4 1387.2,372.0 1388.4,376.0 1390.0,377.4 1391.6,378.6 1392.8,382.0 1394.4,385.1 1396.0,389.4 1397.2,392.6 1398.4,396.8 1399.6,400.0 1400.8,398.9 1402.0,404.2 1403.6,405.3 1405.2,407.4 1406.8,408.5 1408.4,410.6 1410.0,413.8 1411.6,417.0 1413.2,420.2 1414.8,422.3 1416.4,424.0 1418.0,425.5 1419.6,426.6 1421.2,428.7 1422.8,430.2 1424.4,430.8 1426.0,429.8 1427.2,426.6 1428.0,417.0 1428.8,402.1 1429.6,385.1 1430.4,374.0 1431.2,373.0 1432.0,375.0 1433.2,381.0 1434.4,388.3 1435.6,394.7 1436.8,397.9 1438.0,402.1 1439.2,407.4 1440.4,411.7 1441.6,412.8 1442.4,405.3 1443.4,403.2 1444.2,404.2 1445.0,412.8 1446.0,414.9 1447.2,415.9 1448.4,418.1 1449.6,418.1 1450.4,410.6 1451.2,397.9 1452.0,393.6 1452.8,394.7 1453.6,394.0 1454.4,400.0 1455.6,403.2 1457.2,403.8 1458.4,406.4 1459.6,407.4 1460.8,410.6 1462.0,413.2 1463.6,412.8 1464.4,404.2 1465.2,391.5 1466.0,390.4 1466.8,395.8 1468.0,401.1 1469.2,405.3 1470.4,408.5 1471.6,404.2 1472.8,405.3 1474.0,406.4 1474.6,393.6 1475.4,393.6 1476.0,406.4 1476.8,413.8 1478.0,415.9 1479.6,414.9 1480.8,411.7 1481.6,406.4 1482.2,393.6 1483.0,391.1 1484.0,392.6 1485.2,391.5 1486.4,389.4 1487.4,386.2 1488.4,388.3 1489.2,383.0 1490.0,371.0 1490.8,363.0 1491.6,363.6 1492.4,369.0 1493.2,376.0 1494.0,383.0 1494.8,385.1 1495.6,373.0 1496.4,374.0 1497.2,380.0 1498.4,381.0 1499.2,387.2 1500.0,394.7 1500.8,397.9 1501.6,377.0 1502.4,373.0 1503.2,374.0 1504.4,379.0 1505.6,381.0 1506.8,380.0 1508.0,377.0 1508.8,367.0 1510.0,365.4 1511.2,365.0 1512.4,367.0 1513.2,369.0 1513.8,360.0 1514.4,358.0 1515.2,363.0 1516.4,375.0 1517.6,385.1 1518.4,389.4 1519.2,386.2 1520.0,385.1 1521.2,389.4 1522.8,391.1 1524.4,393.6 1526.0,396.8 1527.6,398.9 1529.2,400.0 1530.8,400.4 1532.0,403.2 1533.6,406.4 1535.2,408.9 1536.8,409.6 1538.0,407.4 1539.2,410.6 1540.8,413.8 1542.4,417.0 1544.0,419.1 1544.8,414.9 1545.6,412.8 1546.8,415.9 1548.0,419.1 1549.2,420.2 1550.4,418.1 1551.6,419.5 1553.2,420.8 1554.8,419.1 1556.4,417.6 1557.6,421.2 1558.8,419.5 1560.0,420.8 1560.8,417.4 1562.0,418.1 1563.2,414.9 1564.0,409.6 1564.8,404.2 1566.0,395.8 1567.2,387.2 1568.4,385.1 1569.6,382.0 1570.8,380.6 1572.4,380.6 1574.0,381.0 1575.2,387.2 1576.4,394.7 1577.6,402.1 1578.8,408.1 1579.6,404.2 1580.4,395.8 1581.2,390.4 1582.0,389.0 1582.8,394.7 1584.0,400.0 1585.2,406.4 1586.4,413.8 1587.6,419.1 1588.8,424.4 1590.0,427.2 1591.2,427.6 1592.4,427.2 1593.0,406.4 1593.4,365.0 1594.0,354.0 1594.3,330.0 1594.8,305.0 1595.4,297.6 1596.2,299.0 1597.0,310.0 1598.0,323.0 1599.0,337.0 1600.0,350.0 1601.2,363.0 1602.4,374.0 1603.6,383.0 1604.8,385.1 1606.0,388.3 1607.2,392.6 1608.4,393.6 1609.6,396.8 1610.8,401.1 1612.0,404.2 1612.8,402.1 1613.6,396.8 1614.4,395.8 1615.2,398.9 1616.0,406.4 1617.0,409.6 1617.6,395.8 1618.2,365.0 1618.8,341.0 1619.6,333.0 1620.4,334.0 1621.2,335.0 1622.4,337.0 1623.6,335.0 1624.8,329.0 1625.8,326.6 1626.8,329.0 1627.6,337.0 1628.8,347.0 1630.0,357.0 1631.2,367.0 1632.4,376.0 1633.6,384.1 1634.4,382.0 1635.2,389.4 1636.0,396.8 1637.0,401.1 1637.8,391.5 1638.4,375.0 1639.2,369.0 1640.0,367.4 1640.8,369.0 1642.0,374.0 1643.2,378.0 1644.4,380.0 1645.6,385.1 1646.8,390.4 1648.0,395.8 1649.2,401.1 1650.4,403.2 1651.6,404.2 1652.8,407.4 1654.0,410.6 1655.2,413.8 1656.4,415.3 1657.6,414.9 1658.4,404.2 1659.2,401.1 1660.0,403.2 1660.8,412.8 1661.6,417.4 1662.4,412.8 1663.2,395.8 1664.0,389.4 1664.8,394.7 1665.6,400.0 1666.8,407.4 1668.0,406.0 1669.2,402.1 1670.4,401.7 1671.2,398.3 1672.0,402.1 1673.2,410.6 1674.4,417.0 1675.6,420.8 1677.2,421.2 1678.4,425.5 1679.6,428.7 1680.8,426.6 1682.0,423.4 1683.2,422.3 1684.4,420.2 1685.2,421.2 1685.8,406.4 1686.4,406.4 1687.0,419.1 1688.0,429.8 1689.2,432.9 1690.4,433.6 1691.2,427.6 1691.8,419.5 1692.4,420.2 1693.2,428.7 1694.0,426.6 1694.8,420.2 1695.6,421.2 1696.4,428.7 1697.2,429.8 1698.0,425.5 1699.2,426.6 1700.0,426.6 1701.6,428.3 1702.8,429.8 1704.0,424.8 1705.2,418.5 1706.4,413.0 1707.6,411.9 1709.2,410.1 1710.4,403.0 1711.0,400.3 1712.0,405.2 1713.2,408.5 1714.4,410.8 1715.6,413.0 1716.8,415.2 1718.0,417.4 1718.8,405.2 1719.6,404.1 1720.2,409.6 1720.8,395.2 1721.6,397.4 1722.4,404.1 1723.2,389.7 1723.8,385.7 1724.4,396.3 1725.2,409.6 1726.0,418.5 1727.2,421.9 1728.4,423.0 1729.6,421.9 1730.8,423.0 1731.4,415.2 1732.0,414.7 1732.6,427.4 1733.6,435.2 1734.8,434.1 1736.0,432.3 1737.2,434.5 1738.4,430.7 1739.6,424.1 1740.8,416.3 1741.6,414.1 1742.4,416.3 1743.2,415.9 1744.0,419.6 1744.8,423.0 1745.6,418.5 1746.4,416.3 1747.2,419.6 1748.4,418.5 1749.6,415.2 1750.8,409.6 1751.6,400.8 1752.4,399.0 1753.2,403.0 1754.4,406.3 1755.6,407.4 1756.8,411.9 1758.0,415.2 1759.2,414.1 1760.4,415.9 1761.6,417.4 1762.8,416.3 1763.6,410.1 1764.4,409.6 1765.2,418.5 1766.4,425.2 1767.6,429.6 1769.2,430.7 1770.4,431.8 1771.6,434.1 1772.8,436.3 1774.0,432.3 1775.2,429.6 1776.4,430.1 1777.6,428.5 1778.8,427.4 1780.0,428.5 1781.2,426.3 1782.4,425.2 1783.6,424.1 1784.8,423.0 1785.4,409.6 1786.0,390.8 1786.6,391.4 1787.2,411.9 1788.0,417.4 1788.8,411.9 1789.6,406.3 1790.4,405.6 1791.2,408.5 1792.0,413.0 1793.2,417.4 1794.4,420.7 1795.6,418.5 1796.8,422.5 1798.0,421.2 1799.2,420.7 1800.4,422.5 1801.2,418.5 1802.0,411.4 1802.8,410.8 1803.6,418.5 1804.8,424.1 1806.0,423.0 1806.8,414.1 1807.6,391.4 1808.2,390.8 1808.8,407.4 1809.6,423.0 1810.8,423.4 1812.0,421.9 1813.2,420.7 1814.0,413.0 1814.8,412.3 1815.6,423.0 1816.8,428.5 1818.0,429.2 1819.2,429.6 1820.4,427.4 1821.6,424.1 1822.8,418.5 1823.6,416.3 1824.8,418.1 1826.0,419.6 1826.8,409.6 1827.6,396.3 1828.8,395.2 1829.6,381.0 1830.4,377.4 1831.2,379.0 1832.4,381.0 1833.6,380.0 1834.8,375.0 1836.0,372.0 1837.2,370.6 1838.4,368.6 1839.6,369.4 1840.8,372.0 1842.0,371.0 1842.8,359.0 1843.6,347.0 1844.4,346.6 1845.2,350.0 1846.4,359.0 1847.6,369.0 1848.8,379.0 1850.0,389.7 1851.2,398.5 1852.4,404.1 1853.6,405.2 1854.4,396.3 1855.2,384.1 1856.0,383.0 1856.8,391.9 1858.0,401.9 1859.2,404.1 1860.4,409.6 1861.6,410.8 1862.8,411.9 1864.0,409.6 1865.2,414.1 1866.4,417.4 1867.2,416.3 1868.0,400.8 1868.8,395.2 1869.6,396.3 1870.4,391.4 1871.2,390.8 1872.0,393.0 1873.2,389.7 1874.0,386.3 1875.2,386.3 1876.4,389.7 1877.6,395.2 1878.8,397.4 1879.6,391.9 1880.4,365.0 1881.2,341.0 1882.0,327.0 1882.8,323.4 1883.6,324.0 1884.8,329.0 1886.0,335.0 1887.2,338.0 1888.0,333.0 1888.8,321.0 1889.6,317.0 1890.8,317.0 1892.0,322.0 1893.2,331.0 1894.4,342.0 1895.6,353.0 1896.8,363.0 1898.0,373.0 1899.2,381.0 1900.0,385.1 1901.2,392.5 1902.4,397.8 1903.6,402.0 1904.8,403.7 1906.0,402.4 1907.2,407.3 1908.0,410.4 1908.8,407.3 1909.6,405.2 1910.4,409.4 1911.6,414.6 1912.4,415.7 1913.2,409.4 1914.0,410.4 1914.8,416.8 1916.0,424.1 1917.2,424.1 1918.4,421.0 1919.6,414.6 1920.4,410.0 1921.2,411.5 1922.0,416.8 1923.2,419.9 1924.4,418.9 1926.0,418.4" fill="none" stroke="#00ffff" stroke-width="1.5" stroke-linejoin="round" />
<polyline points="101.0,424.0 104.4,424.6 106.0,422.0 107.6,415.0 109.0,409.0 110.4,403.0 112.0,400.6 113.6,405.0 115.0,411.0 116.4,415.0 118.0,416.0 119.2,412.0 120.6,413.0 122.0,408.0 123.2,403.6 124.4,409.0 125.6,414.0 127.0,412.0 128.4,413.0 129.6,414.0 130.8,403.0 132.0,399.0 133.2,403.0 134.0,395.0" fill="none" stroke="#00ffff" stroke-width="1.6" stroke-linejoin="round" />
<polyline points="143.0,409.0 144.4,420.0 146.0,424.0 147.6,426.0 149.0,428.0 150.8,431.0 151.6,429.0" fill="none" stroke="#00ffff" stroke-width="1.6" stroke-linejoin="round" />
<polyline points="159.4,405.0 160.8,413.0 162.0,416.0 163.2,418.0 164.0,413.0 165.0,410.0 166.0,415.0 167.6,419.0 169.0,422.0 169.8,411.0 170.6,419.0 171.6,424.0 172.6,426.0 174.0,425.0 175.6,425.4 177.0,426.6 178.4,424.0 179.6,422.6 181.0,424.0 182.4,421.0 183.6,414.0" fill="none" stroke="#00ffff" stroke-width="1.6" stroke-linejoin="round" />
<polyline points="604.8,429.0 606.0,430.0 607.2,429.4 608.4,431.0 609.6,430.0 610.6,433.0 611.4,424.0 612.2,425.0 613.0,430.0 614.0,429.0 615.0,431.0 616.0,430.6 617.2,435.0 618.4,434.6 619.4,431.0 620.4,430.0 621.6,424.0" fill="none" stroke="#00ffff" stroke-width="1.6" stroke-linejoin="round" />
<polyline points="637.2,429.0 638.0,415.0 638.8,416.0 639.6,424.6 640.4,429.0 641.6,428.0 642.4,422.0 643.2,423.0 644.0,427.0 644.8,423.0 645.6,426.0 646.8,430.0 648.0,430.0 649.2,425.0 650.4,417.0 651.6,411.4" fill="none" stroke="#00ffff" stroke-width="1.6" stroke-linejoin="round" />
<polyline points="661.0,432.0 662.4,432.0 663.6,433.0 664.8,430.6 666.0,431.4 667.2,432.0 668.4,432.0 669.6,433.4 670.6,435.0 671.4,427.0" fill="none" stroke="#00ffff" stroke-width="1.6" stroke-linejoin="round" />
<polyline points="677.0,417.0 678.4,421.0 680.0,423.0 681.6,424.0 683.2,423.0 684.4,422.0 685.2,420.0 686.4,422.0 688.0,420.6 689.6,419.4 691.2,419.0" fill="none" stroke="#00ffff" stroke-width="1.6" stroke-linejoin="round" />
<polyline points="574.4,418.0 576.0,415.0 577.6,414.0 579.2,415.0 580.4,417.4" fill="none" stroke="#00ffff" stroke-width="1.6" stroke-linejoin="round" />
<polyline points="1368.4,415.0 1369.2,431.0 1370.0,440.0 1370.8,443.0 1371.6,437.0 1372.4,428.0" fill="none" stroke="#00ffff" stroke-width="1.6" stroke-linejoin="round" />
<polyline points="1400.8,400.0 1402.0,405.0 1403.6,406.6 1405.2,408.6 1406.8,409.4 1408.4,412.0 1410.0,415.0 1411.6,418.0 1413.2,421.0 1414.8,423.0 1416.4,424.6 1418.0,426.6 1419.6,427.0 1421.2,429.4 1422.8,431.0 1424.4,433.0 1426.0,432.0 1427.2,427.0 1428.0,417.0" fill="none" stroke="#00ffff" stroke-width="1.6" stroke-linejoin="round" />
<polyline points="100.5,286.2 104.0,286.8 106.0,286.0 108.0,284.5 110.0,281.5 112.0,279.5 114.0,280.8 116.0,283.5 117.5,284.2 119.5,283.5 121.0,284.0 122.8,281.8 124.5,282.7 126.0,283.2 127.5,282.5 129.5,283.5 130.5,282.0 132.0,278.8 134.0,279.0 134.8,270.0 135.5,261.5 136.5,262.2 137.5,267.0 138.5,271.0 139.5,273.2 140.5,268.5 141.5,269.0 142.5,274.0 143.5,280.0 144.5,283.5 146.0,286.0 148.0,287.8 150.0,288.8 151.5,289.2 152.5,287.0 153.5,278.0 154.5,266.0 155.0,261.8 155.8,263.0 157.0,269.0 158.5,275.0 160.0,280.5 161.5,283.5 163.0,285.2 165.0,283.5 166.5,284.8 168.0,285.8 169.5,286.5 170.5,285.5 171.5,287.0 173.5,288.5 175.5,289.2 177.5,289.0 179.5,288.3 181.5,288.2 183.0,287.8 184.3,286.7 185.5,287.8 187.5,288.8 188.5,287.0 189.0,285.8 190.5,286.3 191.8,286.8 192.8,285.0 193.2,272.0 193.8,263.0 195.0,259.0 196.0,250.0 196.8,245.0 197.8,245.5 198.8,251.0 199.8,260.0 200.5,264.0 202.0,269.0 204.0,276.0 205.8,283.0 207.0,277.0 208.0,281.0 209.0,281.5 210.0,274.0 211.0,275.5 212.5,279.0 214.5,281.0 216.5,281.2 218.5,279.7 220.5,279.0 222.0,280.5 224.0,281.0 224.8,275.5 225.8,276.0 227.0,280.5 228.0,281.5 229.5,277.8 230.5,278.5 231.5,280.2 233.0,279.7 234.5,278.5 236.0,279.5 237.2,280.2 237.8,268.5 238.5,269.0 239.5,276.0 241.0,277.5 242.5,277.8 244.0,279.0 245.5,278.8 246.8,276.5 248.0,277.0 249.2,276.0 249.8,269.5 250.8,267.2 251.8,268.5 253.0,273.0 254.5,277.5 256.0,279.2 257.5,279.0 258.5,275.0 259.2,272.5 260.2,273.5 261.5,276.5 262.5,273.0 263.0,272.5 263.7,279.0 265.0,274.5 266.0,279.8 267.5,282.0 270.0,283.2 272.0,284.5 274.5,286.2 276.5,287.3 278.0,287.8 279.5,286.8 280.5,287.5 282.5,286.0 284.5,286.0 286.5,287.0 288.5,286.8 289.5,284.8 290.5,284.5 292.0,283.8 293.5,284.8 295.0,286.3 297.0,286.5 299.0,286.0 300.0,285.5 301.5,284.5 303.0,285.5 305.0,286.0 306.2,282.5 307.2,281.5 308.5,283.0 310.0,282.0 311.5,281.5 313.0,282.8 314.5,284.3 316.0,284.5 317.8,285.2 319.0,284.0 321.0,282.7 322.5,283.0 324.0,284.0 325.5,284.8 327.0,284.8 327.8,280.5 328.8,279.5 330.0,281.5 331.5,285.0 333.0,285.8 333.8,277.0 334.5,268.0 335.3,268.5 336.2,275.5 337.2,282.0 338.0,284.5 339.0,285.0 339.8,287.0 341.0,285.2 342.0,288.0 343.5,288.3 345.5,287.8 347.5,288.0 349.5,287.5 352.0,287.7 354.5,287.5 356.5,285.8 358.5,285.2 360.5,284.5 361.8,281.8 363.0,280.8 364.8,281.5 366.5,281.0 368.5,278.8 370.3,278.8 372.0,280.2 373.5,280.0 375.5,278.0 377.5,277.8 378.8,275.0 380.0,274.5 381.5,276.2 383.0,276.0 384.5,277.5 386.5,280.0 388.5,282.0 390.5,283.5 392.0,284.3 393.5,283.0 395.0,279.8 396.2,278.8 397.8,278.5 399.2,279.3 401.0,278.8 401.8,276.0 402.2,258.0 403.0,258.5 403.8,266.0 405.0,271.0 406.5,274.5 408.0,276.2 409.2,275.8 409.8,271.8 410.5,272.0 411.8,275.0 413.5,277.5 415.0,278.8 417.0,279.8 419.0,282.0 420.5,283.7 422.0,284.0 423.5,284.0 425.0,285.2 427.0,287.0 429.0,289.0 431.0,290.0 432.8,290.0 434.0,286.0 435.0,281.0 436.0,279.7 437.2,281.5 438.5,284.8 439.5,284.5 440.5,282.5 442.0,282.7 443.5,284.5 444.5,284.8 445.5,288.5 446.8,289.0 448.0,287.0 448.8,286.5 449.8,288.5 451.2,288.5 452.5,285.0 453.5,284.0 454.5,278.5 455.2,278.7 456.0,284.5 457.2,287.2 458.0,286.8 459.0,280.0 460.0,271.0 460.7,268.5 461.7,272.5 462.5,270.5 463.2,275.5 464.2,282.5 465.5,286.0 467.0,287.5 469.0,288.0 470.5,287.5 472.0,287.0 473.5,287.5 475.0,287.7 477.0,289.0 478.5,289.7 480.0,288.8 481.5,288.7 483.0,288.5 483.8,286.5 484.5,284.0 485.5,284.0 486.8,286.5 488.0,288.0 490.0,288.0 492.0,287.7 493.5,287.3 495.0,287.8 496.5,288.0 498.5,287.3 500.0,286.0 501.2,284.8 502.5,287.0 504.5,287.8 506.5,287.7 508.5,287.3 510.5,287.8 512.0,286.7 514.0,287.2 516.0,286.8 518.0,287.0 519.5,285.5 521.2,284.5 522.8,285.3 524.5,286.5 526.5,287.5 528.5,286.8 530.5,286.0 532.5,285.5 534.5,284.5 536.0,283.0 537.2,281.0 538.0,277.5 538.8,274.5 540.0,273.0 541.0,270.0 542.0,267.0 543.5,264.0 545.0,262.5 546.2,259.5 547.5,257.8 549.0,257.5 550.0,258.5 551.2,260.5 552.5,262.0 554.0,264.5 555.5,267.5 557.0,269.5 559.0,271.5 561.0,274.5 563.0,277.5 565.0,280.5 566.5,282.2 568.5,283.5 570.5,284.8 572.5,285.2 574.0,286.2 575.5,285.5 577.0,284.7 579.0,284.6 580.8,285.0 582.5,287.0 583.5,286.5 584.8,284.0 586.0,282.0 587.2,279.2 588.2,280.0 589.5,281.5 590.8,282.0 591.8,279.7 592.8,280.0 594.0,283.0 595.5,286.0 597.0,288.0 598.5,288.8 600.0,288.0 601.0,286.8 602.0,288.5 603.5,289.5 605.0,291.0 606.5,292.0 608.5,292.2 610.5,292.0 612.5,291.2 614.5,291.5 616.0,292.5 618.0,293.2 620.0,292.5 621.5,290.5 623.5,288.5 625.0,287.2 627.0,286.0 628.5,284.5 630.0,283.8 630.8,280.0 631.8,279.7 632.8,284.0 634.0,288.5 635.5,290.5 637.2,291.5 638.5,290.0 639.2,291.5 641.0,292.5 642.5,292.8 644.0,292.0 646.0,292.5 648.0,293.2 649.5,292.5 650.5,291.0 652.0,290.0 653.5,290.3 654.8,291.7 656.5,292.5 658.5,292.5 659.2,288.5 660.0,288.7 660.6,292.8 662.0,293.2 664.0,292.8 665.5,292.0 667.0,292.7 669.0,292.8 671.0,293.2 671.8,290.0 672.5,286.5 673.5,285.5 675.0,286.0 677.0,287.5 679.0,289.0 681.0,290.0 683.0,289.8 685.0,288.5 687.0,289.2 689.0,288.5 691.0,288.2 692.5,286.5 693.8,283.5 695.0,281.7 696.5,281.2 698.0,281.3 700.0,280.0 702.0,279.5 704.0,281.0 706.0,282.0 708.0,282.0 710.0,280.0 712.0,278.0 713.5,277.8 715.5,278.7 717.5,278.5 719.5,278.8 721.5,280.0 724.0,279.2 725.5,276.5 727.0,275.0 729.0,274.0 730.5,271.5 731.8,273.0 733.5,275.5 735.5,278.5 737.8,281.3 739.0,278.0 740.0,277.2 741.2,279.0 742.8,279.5 744.0,282.5 745.5,285.0 747.0,286.2 749.0,286.8 751.0,287.8 753.0,289.2 755.0,290.2 757.5,290.0 759.5,289.7 762.0,290.0 765.0,289.5 768.0,289.8 771.0,291.0 774.0,291.8 777.0,292.5 779.5,292.8 780.5,290.7 781.5,289.8 783.0,290.8 785.0,291.8 787.0,291.8 788.0,289.0 788.5,279.0 789.3,278.7 790.0,282.0 790.8,285.5 792.5,284.8 794.0,284.2 795.0,282.0 796.0,281.5 797.5,282.0 799.5,282.5 801.5,282.0 803.0,279.5 804.5,276.0 806.0,273.5 807.5,272.8 809.5,273.5 811.5,275.0 813.5,277.0 815.0,279.0 816.5,279.8 817.5,279.0 819.0,275.5 820.5,273.0 822.5,272.5 824.0,268.5 825.5,265.5 827.0,264.7 828.5,265.5 830.0,267.8 831.5,269.5 833.5,270.8 835.0,272.0 837.0,272.8 839.0,274.2 841.0,275.5 842.8,276.0 843.8,272.0 844.5,268.0 845.5,267.8 847.0,269.5 848.5,273.5 850.0,277.0 851.5,278.2 853.5,278.7 855.0,279.0 857.5,278.5 859.0,276.5 861.0,274.0 863.0,271.5 864.5,267.5 865.5,265.7 867.0,265.8 868.5,267.5 870.0,270.0 871.8,271.2 873.5,275.0 875.5,277.2 878.0,280.0 880.5,282.2 883.0,284.0 885.5,286.2 887.5,287.5 889.5,288.0 891.5,288.0 893.0,287.2 894.5,287.3 896.0,286.0 898.0,285.0 900.0,285.5 902.0,286.5 904.5,287.2 907.0,288.2 910.0,290.0 913.0,291.8 916.0,293.0 919.0,293.5 921.2,293.5 922.5,292.2 923.5,292.0 924.5,293.2 926.5,293.2 927.8,291.0 928.8,288.0 929.8,287.3 931.0,288.5 932.5,290.5 934.0,290.8 935.5,287.5 936.5,285.5 937.8,284.0 939.0,282.3 940.0,283.5 941.2,285.5 943.0,286.3 945.0,285.2 947.0,284.0 949.0,285.0 951.0,284.8 953.0,285.5 955.0,286.3 956.3,284.8 957.3,281.0 958.3,279.5 959.5,281.5 961.0,283.8 962.8,285.0 964.5,285.0 966.0,282.2 967.5,279.5 968.5,277.0 969.3,268.0 970.0,262.5 970.8,263.0 971.8,268.5 973.0,275.0 974.2,280.0 975.8,282.8 977.0,283.0 978.2,282.7 979.5,284.2 981.5,286.5 983.5,288.0 985.5,288.2 987.0,287.3 988.5,287.8 990.5,289.0 992.5,288.0 994.5,286.8 996.0,285.0 997.2,283.0 998.5,282.5 1000.0,283.0 1001.5,284.5 1003.5,285.5 1005.5,286.7 1007.5,287.2 1009.5,288.0 1011.5,287.8 1012.2,285.5 1012.6,278.5 1013.3,277.8 1014.0,284.5 1014.8,283.5 1015.2,270.0 1015.6,257.5 1016.2,260.0 1016.6,276.5 1017.2,270.5 1018.2,270.5 1019.5,273.0 1021.0,276.0 1022.2,279.5 1023.2,280.5 1024.0,278.5 1024.8,275.0 1025.8,274.2 1027.2,275.8 1029.0,276.5 1030.5,278.5 1032.5,280.0 1034.5,281.2 1036.5,282.0 1038.0,281.0 1039.5,283.0 1041.5,285.0 1043.8,285.3 1044.8,282.0 1045.8,279.0 1046.8,277.7 1048.0,277.0 1049.0,273.5 1049.7,270.8 1051.0,270.5 1052.2,270.0 1052.8,260.0 1053.5,245.0 1054.5,240.0 1055.8,239.5 1057.0,241.5 1058.5,246.5 1060.0,252.5 1061.5,258.0 1063.0,264.0 1064.5,268.5 1066.0,271.5 1067.5,273.5 1069.0,274.5 1071.0,274.8 1072.0,273.0 1073.0,268.5 1074.2,266.5 1075.5,267.0 1077.5,269.0 1079.5,271.0 1081.5,271.5 1082.5,270.5 1083.2,265.0 1084.0,264.2 1085.0,265.5 1086.5,268.5 1088.0,270.5 1089.2,271.0 1090.5,272.8 1092.0,274.3 1093.5,274.8 1094.5,271.0 1095.5,270.2 1097.0,272.5 1098.5,274.5 1100.0,275.5 1102.0,277.5 1104.0,279.0 1106.2,279.8 1107.2,277.8 1108.2,277.0 1109.2,279.5 1110.8,282.0 1112.2,283.3 1113.0,270.0 1113.7,256.5 1114.7,256.3 1115.8,261.0 1117.0,268.0 1118.2,275.5 1119.2,279.5 1121.0,282.5 1122.5,285.0 1124.5,284.5 1126.0,284.0 1127.5,285.5 1129.5,287.2 1131.5,287.8 1133.5,286.5 1135.0,286.2 1137.0,286.7 1138.5,287.0 1140.0,287.8 1141.2,286.5 1141.8,284.0 1142.8,283.5 1144.0,285.5 1146.0,287.8 1148.0,287.8 1150.0,288.3 1152.5,289.5 1155.0,289.7 1158.0,289.8 1161.0,290.3 1164.0,290.3 1164.8,287.0 1165.8,286.0 1167.0,287.5 1168.5,289.8 1170.0,290.8 1171.5,290.8 1172.8,289.7 1174.5,290.3 1176.0,289.0 1177.2,288.0 1178.5,288.5 1180.0,287.5 1180.8,280.0 1181.5,274.5 1182.5,274.2 1183.5,277.5 1184.8,282.0 1186.2,284.8 1188.0,286.2 1189.5,286.5 1190.5,285.8 1191.8,287.5 1193.5,289.2 1195.5,290.5 1197.5,291.5 1199.5,292.0 1201.5,292.0 1203.5,291.0 1205.0,291.3 1206.5,290.5 1208.0,288.5 1209.5,288.0 1211.0,289.0 1213.0,290.0 1215.0,290.2 1216.8,290.0 1217.8,287.5 1219.0,286.8 1220.0,285.0 1221.0,280.5 1222.0,278.0 1223.5,277.5 1225.5,276.5 1227.5,278.2 1228.8,277.5 1229.8,270.5 1230.8,268.5 1232.0,270.0 1233.5,272.5 1235.0,275.3 1236.2,277.5 1237.8,278.0 1239.0,281.0 1240.5,284.0 1242.0,286.3 1244.0,288.0 1246.0,289.2 1248.0,289.8 1249.5,290.0 1251.0,289.2 1253.0,288.7 1255.0,289.5 1257.0,289.8 1259.0,290.5 1261.0,290.7 1263.0,290.7 1265.0,290.0 1267.0,290.3 1269.5,290.0 1271.5,289.8 1273.5,288.5 1275.0,285.2 1276.5,282.8 1278.0,280.0 1279.8,279.0 1280.8,273.0 1281.5,260.0 1282.2,254.0 1283.2,252.8 1284.5,255.0 1286.0,258.5 1287.5,260.0 1289.0,261.0 1291.0,261.0 1293.0,261.5 1294.5,262.0 1296.0,264.0 1298.0,267.0 1300.0,270.0 1302.0,272.5 1304.0,274.8 1305.5,275.8 1307.5,274.8 1309.5,275.0 1311.5,276.5 1313.5,277.0 1315.0,279.2 1317.0,280.5 1319.5,281.5 1321.5,282.3 1324.0,283.0 1326.5,282.5 1328.5,281.5 1329.5,278.0 1330.5,274.0 1331.8,273.5 1333.0,275.5 1335.0,277.5 1337.5,279.0 1340.0,281.0 1342.5,282.5 1345.0,283.8 1347.0,283.5 1348.5,282.5 1350.0,283.8 1351.2,282.5 1352.5,285.5 1354.5,286.5 1357.0,287.3 1359.0,288.2 1360.5,286.3 1362.5,287.2 1364.5,286.5 1365.8,285.3 1366.8,287.8 1367.5,281.0 1368.5,282.0 1369.2,288.0 1370.5,290.3 1371.8,290.5 1374.0,289.0 1375.0,284.5 1376.5,280.0 1378.0,276.8 1380.0,274.5 1382.5,273.5 1385.0,273.0 1386.8,272.2 1388.5,274.0 1390.0,274.0 1392.0,273.3 1394.0,274.5 1396.0,276.0 1398.0,278.2 1400.0,279.8 1402.5,282.0 1405.0,281.8 1407.0,282.0 1409.0,282.5 1411.0,284.0 1413.0,285.5 1415.0,286.5 1417.5,287.3 1420.0,288.2 1422.5,289.0 1425.0,289.8 1426.8,289.0 1428.3,287.5 1429.2,282.0 1430.0,276.0 1431.0,272.5 1432.5,271.5 1433.8,273.0 1435.0,275.5 1437.0,276.8 1439.0,279.0 1441.0,281.5 1442.5,280.5 1444.0,279.3 1445.5,281.0 1447.5,282.8 1450.0,284.0 1451.2,281.0 1452.0,278.0 1454.0,276.8 1455.5,278.5 1457.5,279.2 1460.0,279.8 1462.0,281.0 1464.0,280.8 1465.0,277.5 1466.2,276.2 1467.8,277.5 1469.5,279.2 1471.5,280.0 1473.5,280.0 1475.0,278.5 1476.2,281.0 1477.5,282.8 1479.5,283.0 1481.5,281.5 1483.0,277.0 1484.5,276.5 1486.0,276.5 1487.5,275.0 1489.0,274.0 1490.0,268.5 1491.2,266.5 1492.5,267.8 1494.0,271.0 1495.5,268.5 1497.5,269.5 1499.0,270.5 1500.0,273.5 1501.0,274.0 1501.8,270.5 1502.8,269.5 1504.5,271.0 1506.0,271.0 1507.8,270.0 1508.8,266.5 1510.5,264.5 1512.0,263.5 1513.2,263.0 1514.0,259.5 1514.8,258.8 1515.8,262.0 1517.0,267.5 1518.0,271.0 1519.5,270.5 1521.0,271.0 1523.0,272.0 1525.0,274.0 1527.0,275.5 1529.0,276.0 1530.5,275.8 1532.0,276.8 1534.0,278.5 1535.8,279.8 1538.0,278.8 1540.0,280.5 1542.0,282.0 1544.0,283.0 1545.5,281.5 1547.0,282.0 1549.0,283.8 1551.0,283.5 1553.0,283.2 1555.0,283.0 1557.0,283.5 1558.5,284.3 1560.5,283.8 1562.8,283.5 1564.5,281.5 1566.0,279.5 1567.2,275.5 1569.0,272.0 1570.5,270.0 1572.0,269.0 1574.0,268.5 1575.5,270.5 1577.0,273.5 1578.5,276.5 1579.5,277.0 1580.8,275.0 1582.2,274.2 1583.8,276.0 1585.5,279.5 1587.5,283.0 1589.5,285.8 1591.5,286.3 1592.8,286.5 1593.5,278.0 1594.0,258.0 1594.5,242.0 1595.2,233.5 1596.0,232.0 1597.0,233.5 1598.0,239.0 1599.0,246.5 1600.0,254.0 1601.2,260.0 1602.5,264.5 1603.8,268.5 1605.5,271.5 1607.0,274.0 1609.0,275.8 1610.5,278.0 1612.0,279.5 1613.5,278.5 1614.5,277.0 1615.5,277.8 1616.5,279.3 1617.8,279.0 1618.5,274.0 1619.0,263.0 1619.7,255.0 1621.0,252.5 1622.5,251.0 1624.0,247.5 1625.5,244.8 1626.5,244.0 1627.8,246.0 1629.0,250.0 1630.5,255.5 1632.0,261.0 1633.5,265.5 1635.0,269.0 1636.5,272.5 1637.8,273.0 1638.5,268.5 1639.5,263.5 1640.5,262.5 1642.0,264.0 1644.0,267.5 1646.0,271.0 1648.0,274.5 1649.5,276.8 1651.5,278.0 1653.5,279.5 1655.0,280.7 1657.0,281.3 1658.2,281.0 1659.0,278.0 1660.0,277.5 1661.0,279.8 1662.0,282.0 1662.8,281.5 1663.5,277.0 1664.5,276.8 1666.0,278.5 1667.8,280.0 1669.5,279.0 1671.5,278.3 1672.8,279.7 1674.5,282.5 1676.0,284.0 1678.0,284.8 1680.0,286.3 1682.0,286.0 1684.0,285.0 1686.0,284.8 1687.5,287.0 1689.0,288.8 1690.5,289.3 1691.8,287.5 1693.0,288.5 1694.5,288.2 1696.0,289.5 1697.5,290.0 1699.0,289.3 1700.0,289.5 1702.0,290.0 1703.5,290.0 1705.0,288.0 1706.5,285.8 1708.0,284.8 1709.5,283.8 1710.8,281.5 1711.8,280.8 1713.5,281.3 1715.5,281.8 1717.5,283.0 1719.0,283.2 1720.5,282.5 1722.0,282.8 1723.2,281.8 1724.0,279.5 1724.8,280.0 1725.8,284.0 1727.0,286.8 1728.5,287.2 1730.0,287.0 1731.8,287.0 1732.8,289.5 1734.0,291.0 1735.8,291.3 1737.5,291.8 1739.0,290.5 1741.0,288.0 1742.5,287.8 1744.0,287.5 1745.5,286.8 1746.5,285.8 1747.8,286.8 1749.5,286.3 1751.0,285.2 1752.0,281.8 1753.0,281.5 1754.5,282.5 1756.0,283.0 1757.8,284.0 1759.5,283.8 1761.5,284.5 1763.0,284.5 1764.5,283.0 1765.8,285.5 1767.2,287.5 1769.0,289.0 1771.0,290.0 1772.8,290.5 1774.5,290.0 1776.5,289.5 1778.5,288.5 1780.5,288.0 1782.5,287.7 1785.0,287.3 1785.6,279.0 1786.3,278.7 1786.8,284.0 1787.8,284.5 1789.2,283.0 1790.8,282.5 1792.5,283.3 1794.5,285.0 1796.0,285.3 1798.0,285.0 1799.5,284.5 1801.0,285.0 1802.2,283.0 1803.2,282.7 1804.5,284.8 1805.8,286.5 1806.8,286.0 1807.5,280.5 1808.3,280.5 1809.2,284.0 1810.5,286.5 1812.0,287.5 1813.2,287.5 1814.5,285.0 1815.8,287.8 1817.5,288.3 1819.5,288.3 1821.0,287.8 1822.5,286.5 1823.8,285.5 1825.2,286.0 1826.5,285.5 1827.5,280.0 1829.0,279.0 1830.0,274.0 1831.2,273.5 1833.0,273.5 1834.5,272.5 1836.2,270.0 1837.8,268.5 1839.2,268.5 1840.5,269.8 1842.0,270.3 1843.2,265.0 1844.0,261.2 1845.2,260.3 1846.5,262.0 1848.0,266.0 1849.5,270.5 1851.0,274.0 1852.2,276.0 1853.8,276.5 1855.0,274.0 1856.0,271.8 1857.0,274.0 1858.2,275.8 1859.5,276.2 1861.0,278.0 1862.2,279.0 1863.8,278.5 1865.5,280.0 1867.2,281.0 1868.2,276.0 1869.5,275.3 1870.8,273.5 1872.5,273.8 1874.0,273.5 1875.5,273.0 1877.0,273.8 1878.5,275.5 1879.7,275.0 1880.8,265.0 1881.7,252.0 1882.5,246.5 1883.5,245.0 1885.0,245.0 1886.5,246.0 1887.8,246.8 1888.8,243.0 1890.0,238.5 1891.2,237.5 1892.5,238.2 1894.0,241.0 1895.5,246.0 1897.0,251.5 1898.5,256.5 1900.0,261.2 1902.0,266.5 1903.5,270.0 1905.0,272.5 1906.5,274.5 1908.0,276.5 1909.5,277.0 1911.0,279.0 1912.5,280.8 1914.0,281.0 1915.5,282.8 1917.0,284.0 1918.5,283.5 1919.5,282.2 1920.5,281.8 1921.5,283.5 1923.0,284.2 1924.5,284.0 1926.5,283.7" fill="none" stroke="#ff0000" stroke-width="1.3" stroke-linejoin="round" />
<polyline points="100.8,433.4 104.4,434.6 106.0,430.0 107.6,424.0 109.0,415.0 110.4,409.0 112.0,405.0 113.6,410.0 115.0,419.0 116.4,425.0 117.6,426.0 119.0,421.0 120.0,419.0 121.0,422.0 122.0,415.0 123.2,407.4 124.4,415.0 125.6,420.0 127.0,417.0 128.4,419.0 129.6,420.6 130.8,411.0 132.0,405.0 133.0,407.0 134.0,395.0 135.0,359.0 135.6,343.0 136.4,344.0 137.6,365.0 139.0,385.0 139.6,389.0 140.4,363.0 141.2,363.0 142.0,391.0 143.0,411.0 144.4,425.0 146.0,429.0 147.6,432.0 148.6,435.0 149.6,433.0 150.8,435.6 151.6,429.0 152.4,405.0 153.2,379.0 154.0,355.0 154.6,344.0 155.4,345.0 156.6,367.0 158.0,391.0 159.4,407.0 160.8,415.0 162.0,419.0 163.0,423.0 164.0,417.0 165.0,413.0 166.0,419.0 167.6,423.0 169.0,427.0 169.8,414.0 170.6,423.0 171.6,428.0 172.6,432.0 173.6,429.0 174.6,431.0 175.6,429.4 177.0,430.6 178.4,427.0 179.6,425.0 181.0,427.4 182.4,424.0 183.6,416.0 184.4,415.0 185.6,423.0 187.2,427.0 188.2,415.0 189.0,405.0 190.0,407.0 191.2,417.0 192.0,418.0 192.6,375.0 193.2,345.0 194.0,347.0 194.8,344.0 195.6,325.0 196.4,314.6 197.0,314.6 198.0,323.0 199.0,345.0 200.0,365.0 201.0,369.0 202.4,385.0 204.0,403.0 205.2,413.0 206.0,415.0 206.6,382.0 207.4,383.0 208.2,405.0 209.0,403.0 209.8,372.0 210.6,373.0 211.6,391.0 212.6,401.0 213.6,402.0 214.6,409.0 216.0,407.4 217.6,401.0 219.0,402.0 220.6,400.0 221.6,408.0 223.0,411.0 224.0,405.0 225.0,382.0 225.8,383.0 226.6,403.0 227.6,414.0 228.4,411.0 229.2,395.0 230.0,396.0 231.0,407.0 232.0,406.0 233.0,399.0 234.0,396.0 235.0,399.0 236.0,403.0 237.0,407.0 237.6,352.0 238.4,352.0 239.2,395.0 240.0,397.0 241.6,399.0 243.0,407.0 244.0,399.0 244.8,406.0 245.6,395.0 246.4,389.0 247.6,395.0 248.8,394.0 249.6,361.0 250.4,358.0 251.4,360.0 252.6,375.0 254.0,393.0 255.2,404.0 256.4,406.0 257.6,405.0 258.6,381.0 259.4,380.0 260.4,391.0 261.6,398.0 262.4,376.0 263.2,375.0 264.0,407.0 264.8,383.0 265.6,384.0 266.4,411.0 268.0,413.0 269.6,417.0 271.6,420.0 273.6,424.0 275.6,426.0 276.8,429.0 278.0,430.0 278.8,418.0 279.6,423.0 280.6,428.0 281.6,417.0 282.4,418.0 283.4,423.0 285.0,421.0 286.4,423.0 288.0,424.0 289.2,419.0 290.0,411.0 291.0,413.0 292.0,408.0 293.0,411.0 294.0,419.0 295.6,424.0 297.0,423.4 298.4,424.6 299.6,421.0 300.0,421.0 301.0,414.0 302.0,419.0 303.0,423.4 304.4,422.6 305.6,415.0 306.6,402.0 307.6,403.0 308.8,411.0 310.0,407.0 311.0,406.0 312.4,412.0 314.0,419.0 315.6,420.0 317.0,422.0 318.4,415.0 320.0,414.0 321.6,413.4 323.0,415.0 324.4,419.4 325.6,418.0 326.6,420.0 327.6,395.0 328.4,395.0 329.6,405.0 330.8,415.0 332.0,420.4 333.2,420.0 334.0,375.0 334.6,357.4 335.4,358.0 336.2,381.0 337.2,409.0 338.0,420.0 338.8,415.0 339.6,430.0 340.4,409.0 341.2,410.0 342.0,433.0 343.2,434.4 344.4,432.6 345.6,430.0 347.0,429.0 348.0,431.4 349.2,427.0 350.4,428.6 351.6,430.0 352.8,426.0 354.0,426.6 355.2,423.0 356.4,419.0 358.0,418.6 359.6,417.0 360.8,413.0 362.0,406.0 363.2,406.6 364.4,409.4 366.0,409.0 367.6,406.0 368.8,404.0 370.0,404.6 371.2,409.0 372.4,412.6 373.6,408.0 375.0,406.0 376.6,407.0 377.6,403.0 378.4,385.4 379.2,385.0 380.4,392.0 381.6,398.0 382.8,399.0 384.0,404.0 385.2,409.0 386.4,413.0 388.0,417.0 389.6,420.0 391.0,424.0 392.0,426.6 392.8,418.0 394.0,411.0 395.2,404.0 396.0,402.0 397.2,405.0 398.4,407.0 399.6,410.6 400.6,408.0 401.4,375.0 402.0,336.0 402.6,335.0 403.4,357.0 404.4,375.0 406.0,391.0 407.6,401.4 408.6,402.0 409.4,371.0 410.2,370.6 411.2,391.0 412.4,392.0 413.6,399.0 415.0,406.0 416.4,408.0 418.0,413.0 419.6,418.0 420.8,421.0 422.0,419.0 423.6,420.0 425.0,424.6 426.4,428.0 428.0,432.0 429.6,435.6 431.0,437.0 432.0,435.0 433.2,424.0 434.4,401.0 435.4,389.0 436.2,390.0 437.2,399.0 438.4,414.6 439.2,409.0 440.0,402.0 441.0,406.0 442.0,414.0 442.8,405.0 444.0,404.6 444.8,419.0 445.6,429.0 446.8,429.4 447.6,419.0 448.4,409.4 449.2,410.6 450.0,421.0 450.8,426.0 451.6,419.0 452.4,403.0 453.2,401.4 454.0,385.0 454.8,380.6 455.6,395.0 456.4,411.0 457.2,420.0 458.0,421.0 459.0,387.0 460.0,365.0 460.8,360.0 461.6,372.0 462.4,357.0 463.2,373.0 464.0,395.0 465.0,411.0 466.0,419.0 467.2,422.0 468.4,424.0 470.0,422.0 471.6,420.0 473.0,422.0 474.4,421.4 476.0,424.6 477.6,424.0 479.0,421.0 480.0,418.6 481.2,420.0 482.4,419.0 483.6,409.0 484.4,395.4 485.2,395.4 486.4,407.0 487.6,416.0 488.8,419.0 490.0,417.4 491.6,417.0 493.2,414.6 494.4,416.6 495.6,418.6 496.8,415.0 498.0,413.0 499.2,410.6 500.0,403.0 501.0,402.0 502.0,413.0 503.6,418.6 505.0,419.4 506.4,418.0 508.0,417.0 509.6,420.0 511.0,417.0 512.4,416.6 514.0,418.6 515.6,417.4 517.0,419.0 518.4,415.0 520.0,412.6 521.4,412.0 523.0,416.0 524.4,420.0 526.0,424.0 527.6,421.0 529.2,420.0 531.0,418.0 533.0,416.0 535.0,412.0 536.4,407.0 537.2,397.0 538.0,385.0 539.0,382.0 540.0,381.0 541.0,371.0 542.0,367.0 543.2,362.0 544.4,361.4 545.6,357.0 547.2,355.6 548.8,357.0 550.0,361.4 551.2,367.0 552.8,372.0 554.0,379.0 555.2,385.0 556.8,391.0 558.4,395.0 560.0,401.0 561.6,407.0 563.2,412.0 564.8,418.0 566.4,421.0 568.0,423.0 569.6,424.0 570.8,426.0 571.6,418.0 572.4,417.0 573.2,425.0 574.4,421.0 576.0,418.0 577.6,416.6 579.2,418.0 580.4,420.0 581.6,427.0 582.4,427.4 583.2,415.0 584.0,403.0 585.2,402.0 586.4,400.0 587.0,387.4 587.8,389.0 588.6,397.0 589.6,402.0 590.8,403.0 591.6,398.0 592.4,399.0 593.2,407.0 594.4,413.0 595.6,419.0 596.8,424.0 598.0,427.0 599.0,424.0 600.0,415.0 600.8,409.0 601.6,410.0 602.4,420.0 603.6,424.0 604.8,431.0 606.0,436.0 607.2,435.0 608.4,437.0 609.6,434.0 610.6,437.4 611.4,426.0 612.2,427.0 613.0,435.0 614.0,433.0 615.0,436.0 616.0,435.0 617.2,441.0 618.4,440.0 619.4,435.0 620.4,436.0 621.6,426.0 622.8,421.0 624.0,415.0 625.2,411.0 626.4,411.0 627.6,408.0 628.8,404.0 630.0,397.0 630.8,385.0 631.6,384.6 632.4,395.0 633.2,409.0 634.0,421.0 634.8,429.0 636.0,432.0 637.2,432.6 638.0,417.0 638.8,418.0 639.6,429.0 640.4,434.0 641.6,433.0 642.4,424.0 643.2,425.0 644.0,432.0 644.8,425.0 645.6,430.0 646.8,434.6 648.0,435.0 649.2,428.0 650.4,419.0 651.6,413.0 652.6,415.0 653.6,423.0 654.6,429.0 655.6,433.0 656.8,433.4 658.0,434.0 659.2,433.0 659.8,405.0 660.4,407.0 661.0,437.4 662.4,437.0 663.6,438.0 664.8,435.0 666.0,436.0 667.2,437.0 668.4,436.6 669.6,438.0 670.6,438.6 671.4,427.0 672.0,409.0 672.8,402.6 673.6,403.4 674.4,409.0 675.6,415.0 677.0,419.0 678.4,424.0 680.0,427.0 681.6,428.6 683.2,427.0 684.4,426.0 685.2,423.0 686.4,426.0 688.0,423.0 689.6,422.0 691.2,421.0 692.4,419.0 693.4,413.0 694.4,405.0 695.6,403.0 697.2,403.0 698.8,402.0 700.0,401.0 701.6,403.0 703.0,408.0 704.4,413.0 705.6,414.0 707.0,412.0 708.4,405.0 709.6,396.0 711.0,392.0 712.4,391.6 713.6,393.0 715.0,398.0 716.4,398.6 717.6,396.6 718.8,397.0 720.0,396.0 721.2,401.0 722.4,401.4 724.0,400.6 725.2,392.0 726.4,387.0 727.6,386.0 728.8,386.6 730.0,382.0 731.0,387.0 732.4,394.0 734.0,401.0 735.6,407.0 737.2,412.0 738.4,411.4 739.2,401.0 740.0,396.0 740.8,403.0 741.6,407.0 742.4,406.0 743.2,413.0 744.4,423.0 745.6,426.0 747.2,426.0 748.8,427.0 750.4,428.0 752.0,431.0 753.6,434.0 754.8,435.0 756.0,432.0 757.6,430.0 759.2,428.0 760.8,429.0 762.4,428.6 763.6,426.0 764.8,425.0 766.4,427.0 768.0,429.0 769.6,430.0 771.2,431.6 772.8,433.0 774.4,435.0 776.0,434.6 777.6,436.0 779.2,436.0 780.2,427.0 781.0,424.6 782.0,429.0 783.2,433.0 784.4,434.6 785.6,433.0 786.8,432.0 787.6,415.0 788.2,385.0 789.0,384.0 789.6,403.0 790.4,416.0 791.2,416.6 792.0,410.0 793.2,407.0 794.4,397.0 795.6,396.0 796.8,400.0 798.0,401.4 799.2,402.0 800.6,400.0 802.0,399.0 803.0,391.0 804.0,384.0 805.2,380.0 806.4,378.6 807.6,380.0 809.0,384.0 810.4,388.0 812.0,393.0 813.6,399.0 815.0,403.0 816.4,404.0 817.2,399.0 818.0,391.0 819.0,383.0 820.0,378.0 821.0,377.4 822.0,378.6 822.8,371.0 823.6,361.0 824.6,355.0 826.0,354.0 827.2,354.6 828.4,358.0 829.6,365.0 830.8,373.0 831.6,378.6 832.8,381.0 834.0,385.0 835.2,388.0 836.8,391.0 838.4,395.0 840.0,399.0 841.6,402.0 842.6,401.0 843.2,385.0 844.0,370.0 844.8,369.0 845.6,375.0 846.8,385.0 848.0,395.0 849.2,405.0 850.4,411.0 851.6,410.6 852.6,408.0 853.6,410.0 854.8,409.0 856.0,408.6 857.2,407.0 858.0,401.0 859.0,393.0 860.0,389.0 861.2,387.4 862.4,383.0 863.6,375.0 864.8,369.4 865.6,368.6 866.8,372.0 868.0,377.0 869.2,384.0 870.4,391.0 871.6,390.0 872.4,394.0 873.2,401.0 874.4,406.0 875.6,409.0 876.8,413.0 878.0,416.0 879.6,419.0 881.2,422.0 882.8,425.0 884.4,429.0 886.0,432.0 887.6,433.0 889.0,431.0 890.4,430.0 891.6,428.0 892.8,427.0 894.0,426.0 895.0,428.0 896.0,423.0 897.2,418.0 898.4,416.0 900.0,418.0 901.2,419.0 902.4,423.0 904.0,425.0 905.6,424.6 907.0,428.0 908.4,430.0 910.0,433.0 911.6,435.0 913.2,438.0 914.8,440.0 916.4,441.4 918.0,440.0 919.2,438.6 920.4,441.0 921.6,440.6 922.4,432.0 923.2,431.0 924.0,437.0 925.2,440.0 926.4,439.0 927.6,431.0 928.4,413.0 929.2,411.0 930.0,417.0 931.2,427.0 932.4,433.0 933.6,432.0 934.8,421.0 936.0,410.0 937.2,408.6 938.0,403.0 938.8,400.0 939.6,401.4 940.4,411.0 941.6,418.0 942.8,420.0 944.0,419.0 945.2,413.0 946.4,410.0 947.2,408.6 948.4,413.0 949.6,416.0 950.8,414.0 952.0,415.0 953.2,418.0 954.4,417.4 955.4,409.0 956.4,397.0 957.4,389.4 958.2,390.0 959.0,399.0 960.0,407.0 961.2,413.0 962.4,417.0 963.6,418.0 964.8,413.0 965.6,403.0 966.6,397.0 967.6,395.0 968.4,381.0 969.2,361.0 969.8,350.6 970.6,351.0 971.4,365.0 972.4,383.0 973.4,399.0 974.4,409.0 975.6,415.0 976.6,413.0 977.6,409.4 978.4,411.0 979.4,417.0 980.4,421.0 981.6,423.0 983.2,424.0 984.8,426.0 986.0,425.4 986.8,423.0 988.0,426.0 989.6,429.0 991.0,428.6 992.4,426.0 994.0,423.0 995.6,419.0 997.0,413.0 998.0,412.0 999.2,414.0 1000.4,419.0 1001.6,423.0 1003.2,425.0 1004.8,428.0 1006.4,429.0 1008.0,431.0 1009.6,430.0 1011.0,429.0 1012.0,415.0 1012.6,376.0 1013.2,376.0 1013.8,405.0 1014.4,414.0 1015.0,375.0 1015.4,329.0 1016.2,329.0 1016.8,389.0 1017.4,364.0 1018.2,364.6 1019.0,375.0 1020.0,389.0 1021.2,401.0 1022.4,408.0 1023.2,407.0 1024.0,395.0 1024.8,386.0 1026.0,385.4 1026.8,393.0 1027.6,396.0 1028.4,395.0 1029.6,401.0 1030.8,406.0 1032.0,408.0 1033.6,411.0 1035.2,413.0 1036.4,414.0 1037.4,407.0 1038.0,406.6 1038.8,412.0 1040.0,417.0 1041.2,421.0 1042.4,423.0 1043.6,420.0 1044.4,405.0 1045.2,389.0 1046.0,383.0 1047.2,382.0 1048.2,379.0 1049.0,369.0 1049.8,368.6 1050.6,373.0 1051.6,371.0 1052.4,355.0 1053.2,335.0 1054.0,321.0 1054.6,314.0 1055.4,314.0 1056.2,323.0 1057.6,333.0 1059.2,347.0 1060.8,358.0 1062.4,370.0 1064.0,379.0 1065.6,384.0 1067.2,386.0 1068.4,389.0 1070.0,390.6 1071.2,390.0 1072.4,381.0 1073.6,374.0 1074.8,372.0 1076.0,374.0 1077.2,379.0 1078.4,384.0 1079.6,388.6 1081.2,388.0 1082.2,387.0 1082.8,367.0 1083.4,363.0 1084.2,365.0 1085.2,374.0 1086.4,379.0 1087.6,382.0 1088.6,381.0 1089.6,384.0 1091.2,387.0 1092.8,388.6 1093.8,383.0 1094.4,374.0 1095.2,373.4 1096.0,381.0 1097.2,389.0 1098.4,393.0 1100.0,396.0 1101.2,400.0 1102.4,404.0 1103.6,407.0 1104.8,408.6 1106.0,410.0 1106.8,403.0 1107.4,393.0 1108.2,393.0 1109.0,405.0 1110.0,412.0 1111.2,415.0 1112.4,418.0 1113.0,395.0 1113.4,355.0 1113.8,333.0 1114.6,333.0 1115.4,345.0 1116.4,363.0 1117.4,381.0 1118.4,399.0 1119.4,411.0 1120.4,415.0 1121.6,418.0 1122.6,424.0 1123.6,420.0 1124.4,417.0 1126.0,417.0 1127.2,423.0 1128.4,425.0 1129.6,428.0 1130.8,430.0 1132.0,428.0 1133.2,424.0 1134.4,422.0 1135.6,423.0 1137.0,425.0 1138.4,427.0 1139.4,430.0 1140.4,427.0 1141.4,417.0 1142.2,412.6 1143.2,413.0 1144.0,421.0 1145.2,428.0 1146.4,429.4 1147.6,427.0 1148.8,426.0 1150.0,428.0 1151.6,429.0 1153.2,431.0 1154.8,430.6 1156.4,432.0 1158.0,431.6 1159.6,433.0 1161.2,434.0 1162.8,433.4 1164.0,430.0 1164.6,417.0 1165.2,413.0 1166.0,413.4 1166.8,421.0 1168.0,429.0 1169.2,434.0 1170.4,435.0 1171.6,431.0 1172.6,426.0 1173.4,425.4 1174.2,430.0 1175.2,428.0 1176.2,421.0 1176.8,415.4 1177.6,416.0 1178.4,420.0 1179.2,417.0 1180.0,415.0 1180.6,399.0 1181.2,379.0 1181.8,369.4 1182.4,370.0 1183.2,383.0 1184.0,395.0 1185.0,403.0 1186.4,406.0 1188.0,407.0 1189.4,408.0 1190.4,404.6 1191.2,409.0 1192.4,415.0 1193.6,420.0 1194.8,423.0 1196.0,424.6 1197.2,428.0 1198.4,430.0 1199.6,432.0 1200.8,433.4 1202.0,432.6 1203.2,430.6 1204.4,432.0 1205.6,434.0 1206.4,429.0 1207.2,421.0 1208.0,417.4 1209.2,418.0 1210.4,422.0 1211.6,426.0 1212.8,430.0 1214.0,431.0 1215.2,429.0 1216.4,431.4 1217.2,419.0 1218.0,417.0 1219.0,407.0 1220.0,393.0 1221.0,381.0 1222.0,376.0 1223.0,376.0 1224.0,378.0 1225.2,379.0 1226.4,383.0 1227.6,387.4 1228.4,386.0 1229.2,373.0 1230.0,360.0 1230.8,359.0 1231.6,367.0 1232.8,377.0 1234.0,385.0 1235.2,392.0 1236.0,397.0 1237.0,394.0 1238.0,401.0 1239.2,410.0 1240.4,416.0 1241.6,421.0 1243.2,424.6 1244.8,428.0 1246.4,430.0 1248.0,431.4 1249.6,432.0 1250.4,427.0 1251.6,424.6 1252.6,420.6 1253.6,421.0 1254.6,424.6 1256.0,427.4 1257.2,430.0 1258.4,429.0 1259.6,431.4 1260.8,432.0 1262.0,434.0 1263.2,431.0 1264.4,429.4 1265.6,431.0 1267.2,432.6 1268.4,430.0 1270.0,428.6 1271.6,426.0 1272.8,422.0 1274.0,413.0 1275.2,403.0 1276.4,399.0 1277.6,392.0 1278.8,392.6 1279.6,394.0 1280.4,375.0 1281.2,351.0 1282.0,338.6 1283.0,338.0 1284.0,345.0 1285.2,354.0 1286.4,358.0 1287.6,360.6 1289.2,362.6 1290.8,363.0 1292.4,365.0 1293.6,367.0 1294.8,372.0 1296.4,379.0 1298.0,385.0 1300.0,389.0 1301.0,390.6 1302.0,396.0 1303.2,399.0 1304.4,403.0 1305.6,404.0 1306.8,399.0 1308.0,396.6 1309.2,397.0 1310.4,401.0 1311.6,403.0 1312.8,402.0 1313.6,407.0 1314.8,412.0 1316.0,414.0 1317.6,416.0 1319.2,417.4 1320.8,419.0 1322.4,420.0 1324.0,420.6 1325.6,419.0 1327.0,417.0 1328.0,413.0 1328.8,403.0 1329.6,387.0 1330.4,373.0 1331.2,372.6 1332.0,381.0 1333.0,392.0 1334.0,400.0 1335.2,405.0 1336.4,408.0 1338.0,411.0 1339.6,414.0 1341.2,417.0 1342.8,419.0 1344.4,422.0 1345.6,423.0 1346.8,419.0 1348.0,415.0 1348.8,421.0 1349.6,423.0 1350.4,415.0 1351.2,412.0 1352.0,423.0 1353.0,429.0 1354.4,430.0 1355.6,429.0 1356.8,431.0 1358.0,430.6 1359.2,432.0 1360.0,425.0 1360.8,422.0 1361.6,424.0 1362.4,427.0 1363.2,424.6 1364.0,426.0 1364.8,415.0 1365.6,414.0 1366.4,427.0 1367.0,431.0 1367.4,385.0 1368.0,385.4 1368.6,415.0 1369.2,427.0 1370.0,435.0 1370.8,436.0 1371.6,433.0 1372.4,426.0 1373.2,423.0 1374.0,411.0 1374.8,395.0 1375.6,386.0 1376.8,381.0 1378.0,376.0 1379.2,373.0 1380.4,371.0 1382.0,370.2 1384.0,370.0 1386.0,370.4 1387.2,372.0 1388.4,376.0 1390.0,377.4 1391.6,378.6 1392.8,382.0 1394.4,385.0 1396.0,389.0 1397.2,392.0 1398.4,396.0 1399.6,399.0 1400.8,398.0 1402.0,403.0 1403.6,404.0 1405.2,406.0 1406.8,407.0 1408.4,409.0 1410.0,412.0 1411.6,415.0 1413.2,418.0 1414.8,420.0 1416.4,421.6 1418.0,423.0 1419.6,424.0 1421.2,426.0 1422.8,427.4 1424.4,428.0 1426.0,427.0 1427.2,424.0 1428.0,415.0 1428.8,401.0 1429.6,385.0 1430.4,374.0 1431.2,373.0 1432.0,375.0 1433.2,381.0 1434.4,388.0 1435.6,394.0 1436.8,397.0 1438.0,401.0 1439.2,406.0 1440.4,410.0 1441.6,411.0 1442.4,404.0 1443.4,402.0 1444.2,403.0 1445.0,411.0 1446.0,413.0 1447.2,414.0 1448.4,416.0 1449.6,416.0 1450.4,409.0 1451.2,397.0 1452.0,393.0 1452.8,394.0 1453.6,393.4 1454.4,399.0 1455.6,402.0 1457.2,402.6 1458.4,405.0 1459.6,406.0 1460.8,409.0 1462.0,411.4 1463.6,411.0 1464.4,403.0 1465.2,391.0 1466.0,390.0 1466.8,395.0 1468.0,400.0 1469.2,404.0 1470.4,407.0 1471.6,403.0 1472.8,404.0 1474.0,405.0 1474.6,393.0 1475.4,393.0 1476.0,405.0 1476.8,412.0 1478.0,414.0 1479.6,413.0 1480.8,410.0 1481.6,405.0 1482.2,393.0 1483.0,390.6 1484.0,392.0 1485.2,391.0 1486.4,389.0 1487.4,386.0 1488.4,388.0 1489.2,383.0 1490.0,371.0 1490.8,363.0 1491.6,363.6 1492.4,369.0 1493.2,376.0 1494.0,383.0 1494.8,385.0 1495.6,373.0 1496.4,374.0 1497.2,380.0 1498.4,381.0 1499.2,387.0 1500.0,394.0 1500.8,397.0 1501.6,377.0 1502.4,373.0 1503.2,374.0 1504.4,379.0 1505.6,381.0 1506.8,380.0 1508.0,377.0 1508.8,367.0 1510.0,365.4 1511.2,365.0 1512.4,367.0 1513.2,369.0 1513.8,360.0 1514.4,358.0 1515.2,363.0 1516.4,375.0 1517.6,385.0 1518.4,389.0 1519.2,386.0 1520.0,385.0 1521.2,389.0 1522.8,390.6 1524.4,393.0 1526.0,396.0 1527.6,398.0 1529.2,399.0 1530.8,399.4 1532.0,402.0 1533.6,405.0 1535.2,407.4 1536.8,408.0 1538.0,406.0 1539.2,409.0 1540.8,412.0 1542.4,415.0 1544.0,417.0 1544.8,413.0 1545.6,411.0 1546.8,414.0 1548.0,417.0 1549.2,418.0 1550.4,416.0 1551.6,417.4 1553.2,418.6 1554.8,417.0 1556.4,415.6 1557.6,419.0 1558.8,417.4 1560.0,418.6 1560.8,415.4 1562.0,416.0 1563.2,413.0 1564.0,408.0 1564.8,403.0 1566.0,395.0 1567.2,387.0 1568.4,385.0 1569.6,382.0 1570.8,380.6 1572.4,380.6 1574.0,381.0 1575.2,387.0 1576.4,394.0 1577.6,401.0 1578.8,406.6 1579.6,403.0 1580.4,395.0 1581.2,390.0 1582.0,388.6 1582.8,394.0 1584.0,399.0 1585.2,405.0 1586.4,412.0 1587.6,417.0 1588.8,422.0 1590.0,424.6 1591.2,425.0 1592.4,424.6 1593.0,405.0 1593.4,365.0 1594.0,354.0 1594.3,330.0 1594.8,305.0 1595.4,297.6 1596.2,299.0 1597.0,310.0 1598.0,323.0 1599.0,337.0 1600.0,350.0 1601.2,363.0 1602.4,374.0 1603.6,383.0 1604.8,385.0 1606.0,388.0 1607.2,392.0 1608.4,393.0 1609.6,396.0 1610.8,400.0 1612.0,403.0 1612.8,401.0 1613.6,396.0 1614.4,395.0 1615.2,398.0 1616.0,405.0 1617.0,408.0 1617.6,395.0 1618.2,365.0 1618.8,341.0 1619.6,333.0 1620.4,334.0 1621.2,335.0 1622.4,337.0 1623.6,335.0 1624.8,329.0 1625.8,326.6 1626.8,329.0 1627.6,337.0 1628.8,347.0 1630.0,357.0 1631.2,367.0 1632.4,376.0 1633.6,384.0 1634.4,382.0 1635.2,389.0 1636.0,396.0 1637.0,400.0 1637.8,391.0 1638.4,375.0 1639.2,369.0 1640.0,367.4 1640.8,369.0 1642.0,374.0 1643.2,378.0 1644.4,380.0 1645.6,385.0 1646.8,390.0 1648.0,395.0 1649.2,400.0 1650.4,402.0 1651.6,403.0 1652.8,406.0 1654.0,409.0 1655.2,412.0 1656.4,413.4 1657.6,413.0 1658.4,403.0 1659.2,400.0 1660.0,402.0 1660.8,411.0 1661.6,415.4 1662.4,411.0 1663.2,395.0 1664.0,389.0 1664.8,394.0 1665.6,399.0 1666.8,406.0 1668.0,404.6 1669.2,401.0 1670.4,400.6 1671.2,397.4 1672.0,401.0 1673.2,409.0 1674.4,415.0 1675.6,418.6 1677.2,419.0 1678.4,423.0 1679.6,426.0 1680.8,424.0 1682.0,421.0 1683.2,420.0 1684.4,418.0 1685.2,419.0 1685.8,405.0 1686.4,405.0 1687.0,417.0 1688.0,427.0 1689.2,430.0 1690.4,430.6 1691.2,425.0 1691.8,417.4 1692.4,418.0 1693.2,426.0 1694.0,424.0 1694.8,418.0 1695.6,419.0 1696.4,426.0 1697.2,427.0 1698.0,423.0 1699.2,424.0 1700.0,424.0 1701.6,425.0 1702.8,426.0 1704.0,421.0 1705.2,415.0 1706.4,410.0 1707.6,409.0 1709.2,407.4 1710.4,401.0 1711.0,398.6 1712.0,403.0 1713.2,406.0 1714.4,408.0 1715.6,410.0 1716.8,412.0 1718.0,414.0 1718.8,403.0 1719.6,402.0 1720.2,407.0 1720.8,394.0 1721.6,396.0 1722.4,402.0 1723.2,389.0 1723.8,385.4 1724.4,395.0 1725.2,407.0 1726.0,415.0 1727.2,418.0 1728.4,419.0 1729.6,418.0 1730.8,419.0 1731.4,412.0 1732.0,411.6 1732.6,423.0 1733.6,430.0 1734.8,429.0 1736.0,427.4 1737.2,429.4 1738.4,426.0 1739.6,420.0 1740.8,413.0 1741.6,411.0 1742.4,413.0 1743.2,412.6 1744.0,416.0 1744.8,419.0 1745.6,415.0 1746.4,413.0 1747.2,416.0 1748.4,415.0 1749.6,412.0 1750.8,407.0 1751.6,399.0 1752.4,397.4 1753.2,401.0 1754.4,404.0 1755.6,405.0 1756.8,409.0 1758.0,412.0 1759.2,411.0 1760.4,412.6 1761.6,414.0 1762.8,413.0 1763.6,407.4 1764.4,407.0 1765.2,415.0 1766.4,421.0 1767.6,425.0 1769.2,426.0 1770.4,427.0 1771.6,429.0 1772.8,431.0 1774.0,427.4 1775.2,425.0 1776.4,425.4 1777.6,424.0 1778.8,423.0 1780.0,424.0 1781.2,422.0 1782.4,421.0 1783.6,420.0 1784.8,419.0 1785.4,407.0 1786.0,390.0 1786.6,390.6 1787.2,409.0 1788.0,414.0 1788.8,409.0 1789.6,404.0 1790.4,403.4 1791.2,406.0 1792.0,410.0 1793.2,414.0 1794.4,417.0 1795.6,415.0 1796.8,418.6 1798.0,417.4 1799.2,417.0 1800.4,418.6 1801.2,415.0 1802.0,408.6 1802.8,408.0 1803.6,415.0 1804.8,420.0 1806.0,419.0 1806.8,411.0 1807.6,390.6 1808.2,390.0 1808.8,405.0 1809.6,419.0 1810.8,419.4 1812.0,418.0 1813.2,417.0 1814.0,410.0 1814.8,409.4 1815.6,419.0 1816.8,424.0 1818.0,424.6 1819.2,425.0 1820.4,423.0 1821.6,420.0 1822.8,415.0 1823.6,413.0 1824.8,414.6 1826.0,416.0 1826.8,407.0 1827.6,395.0 1828.8,394.0 1829.6,381.0 1830.4,377.4 1831.2,379.0 1832.4,381.0 1833.6,380.0 1834.8,375.0 1836.0,372.0 1837.2,370.6 1838.4,368.6 1839.6,369.4 1840.8,372.0 1842.0,371.0 1842.8,359.0 1843.6,347.0 1844.4,346.6 1845.2,350.0 1846.4,359.0 1847.6,369.0 1848.8,379.0 1850.0,389.0 1851.2,397.0 1852.4,402.0 1853.6,403.0 1854.4,395.0 1855.2,384.0 1856.0,383.0 1856.8,391.0 1858.0,400.0 1859.2,402.0 1860.4,407.0 1861.6,408.0 1862.8,409.0 1864.0,407.0 1865.2,411.0 1866.4,414.0 1867.2,413.0 1868.0,399.0 1868.8,394.0 1869.6,395.0 1870.4,390.6 1871.2,390.0 1872.0,392.0 1873.2,389.0 1874.0,386.0 1875.2,386.0 1876.4,389.0 1877.6,394.0 1878.8,396.0 1879.6,391.0 1880.4,365.0 1881.2,341.0 1882.0,327.0 1882.8,323.4 1883.6,324.0 1884.8,329.0 1886.0,335.0 1887.2,338.0 1888.0,333.0 1888.8,321.0 1889.6,317.0 1890.8,317.0 1892.0,322.0 1893.2,331.0 1894.4,342.0 1895.6,353.0 1896.8,363.0 1898.0,373.0 1899.2,381.0 1900.0,385.0 1901.2,392.0 1902.4,397.0 1903.6,401.0 1904.8,402.6 1906.0,401.4 1907.2,406.0 1908.0,409.0 1908.8,406.0 1909.6,404.0 1910.4,408.0 1911.6,413.0 1912.4,414.0 1913.2,408.0 1914.0,409.0 1914.8,415.0 1916.0,422.0 1917.2,422.0 1918.4,419.0 1919.6,413.0 1920.4,408.6 1921.2,410.0 1922.0,415.0 1923.2,418.0 1924.4,417.0 1926.0,416.6" fill="none" stroke="#0000ff" stroke-width="1.3" stroke-linejoin="round" />
<g stroke="#000" stroke-width="1.15" fill="none">
<line x1="713.5" x2="713.5" y1="15.5" y2="561.5"/>
<line x1="1327.5" x2="1327.5" y1="15.5" y2="561.5"/>
</g>
<g stroke="#000" fill="none">
<line x1="100.5" x2="112.1" y1="483.5" y2="483.5" stroke-width="1" stroke="#262626"/>
<line x1="100.5" x2="112.1" y1="405.5" y2="405.5" stroke-width="1" stroke="#262626"/>
<line x1="100.5" x2="112.1" y1="327.5" y2="327.5" stroke-width="1" stroke="#262626"/>
<line x1="100.5" x2="112.1" y1="249.5" y2="249.5" stroke-width="1" stroke="#262626"/>
<line x1="100.5" x2="112.1" y1="171.5" y2="171.5" stroke-width="1" stroke="#262626"/>
<line x1="100.5" x2="112.1" y1="93.5" y2="93.5" stroke-width="1" stroke="#262626"/>
<line x1="100.5" x2="109.0" y1="538.5" y2="538.5" stroke-width="0.85"/>
<line x1="1932.0" x2="1940.5" y1="538.5" y2="538.5" stroke-width="0.85"/>
<line x1="100.5" x2="109.0" y1="524.5" y2="524.5" stroke-width="0.85"/>
<line x1="1932.0" x2="1940.5" y1="524.5" y2="524.5" stroke-width="0.85"/>
<line x1="100.5" x2="109.0" y1="514.5" y2="514.5" stroke-width="0.85"/>
<line x1="1932.0" x2="1940.5" y1="514.5" y2="514.5" stroke-width="0.85"/>
<line x1="100.5" x2="109.0" y1="507.5" y2="507.5" stroke-width="0.85"/>
<line x1="1932.0" x2="1940.5" y1="507.5" y2="507.5" stroke-width="0.85"/>
<line x1="100.5" x2="109.0" y1="501.5" y2="501.5" stroke-width="0.85"/>
<line x1="1932.0" x2="1940.5" y1="501.5" y2="501.5" stroke-width="0.85"/>
<line x1="100.5" x2="109.0" y1="495.5" y2="495.5" stroke-width="0.85"/>
<line x1="1932.0" x2="1940.5" y1="495.5" y2="495.5" stroke-width="0.85"/>
<line x1="100.5" x2="109.0" y1="491.5" y2="491.5" stroke-width="0.85"/>
<line x1="1932.0" x2="1940.5" y1="491.5" y2="491.5" stroke-width="0.85"/>
<line x1="100.5" x2="109.0" y1="487.5" y2="487.5" stroke-width="0.85"/>
<line x1="1932.0" x2="1940.5" y1="487.5" y2="487.5" stroke-width="0.85"/>
<line x1="100.5" x2="109.0" y1="460.5" y2="460.5" stroke-width="0.85"/>
<line x1="1932.0" x2="1940.5" y1="460.5" y2="460.5" stroke-width="0.85"/>
<line x1="100.5" x2="109.0" y1="446.5" y2="446.5" stroke-width="0.85"/>
<line x1="1932.0" x2="1940.5" y1="446.5" y2="446.5" stroke-width="0.85"/>
<line x1="100.5" x2="109.0" y1="436.5" y2="436.5" stroke-width="0.85"/>
<line x1="1932.0" x2="1940.5" y1="436.5" y2="436.5" stroke-width="0.85"/>
<line x1="100.5" x2="109.0" y1="429.5" y2="429.5" stroke-width="0.85"/>
<line x1="1932.0" x2="1940.5" y1="429.5" y2="429.5" stroke-width="0.85"/>
<line x1="100.5" x2="109.0" y1="423.5" y2="423.5" stroke-width="0.85"/>
<line x1="1932.0" x2="1940.5" y1="423.5" y2="423.5" stroke-width="0.85"/>
<line x1="100.5" x2="109.0" y1="417.5" y2="417.5" stroke-width="0.85"/>
<line x1="1932.0" x2="1940.5" y1="417.5" y2="417.5" stroke-width="0.85"/>
<line x1="100.5" x2="109.0" y1="413.5" y2="413.5" stroke-width="0.85"/>
<line x1="1932.0" x2="1940.5" y1="413.5" y2="413.5" stroke-width="0.85"/>
<line x1="100.5" x2="109.0" y1="409.5" y2="409.5" stroke-width="0.85"/>
<line x1="1932.0" x2="1940.5" y1="409.5" y2="409.5" stroke-width="0.85"/>
<line x1="100.5" x2="109.0" y1="382.5" y2="382.5" stroke-width="0.85"/>
<line x1="1932.0" x2="1940.5" y1="382.5" y2="382.5" stroke-width="0.85"/>
<line x1="100.5" x2="109.0" y1="368.5" y2="368.5" stroke-width="0.85"/>
<line x1="1932.0" x2="1940.5" y1="368.5" y2="368.5" stroke-width="0.85"/>
<line x1="100.5" x2="109.0" y1="358.5" y2="358.5" stroke-width="0.85"/>
<line x1="1932.0" x2="1940.5" y1="358.5" y2="358.5" stroke-width="0.85"/>
<line x1="100.5" x2="109.0" y1="351.5" y2="351.5" stroke-width="0.85"/>
<line x1="1932.0" x2="1940.5" y1="351.5" y2="351.5" stroke-width="0.85"/>
<line x1="100.5" x2="109.0" y1="345.5" y2="345.5" stroke-width="0.85"/>
<line x1="1932.0" x2="1940.5" y1="345.5" y2="345.5" stroke-width="0.85"/>
<line x1="100.5" x2="109.0" y1="339.5" y2="339.5" stroke-width="0.85"/>
<line x1="1932.0" x2="1940.5" y1="339.5" y2="339.5" stroke-width="0.85"/>
<line x1="100.5" x2="109.0" y1="335.5" y2="335.5" stroke-width="0.85"/>
<line x1="1932.0" x2="1940.5" y1="335.5" y2="335.5" stroke-width="0.85"/>
<line x1="100.5" x2="109.0" y1="331.5" y2="331.5" stroke-width="0.85"/>
<line x1="1932.0" x2="1940.5" y1="331.5" y2="331.5" stroke-width="0.85"/>
<line x1="100.5" x2="109.0" y1="304.5" y2="304.5" stroke-width="0.85"/>
<line x1="1932.0" x2="1940.5" y1="304.5" y2="304.5" stroke-width="0.85"/>
<line x1="100.5" x2="109.0" y1="290.5" y2="290.5" stroke-width="0.85"/>
<line x1="1932.0" x2="1940.5" y1="290.5" y2="290.5" stroke-width="0.85"/>
<line x1="100.5" x2="109.0" y1="280.5" y2="280.5" stroke-width="0.85"/>
<line x1="1932.0" x2="1940.5" y1="280.5" y2="280.5" stroke-width="0.85"/>
<line x1="100.5" x2="109.0" y1="273.5" y2="273.5" stroke-width="0.85"/>
<line x1="1932.0" x2="1940.5" y1="273.5" y2="273.5" stroke-width="0.85"/>
<line x1="100.5" x2="109.0" y1="266.5" y2="266.5" stroke-width="0.85"/>
<line x1="1932.0" x2="1940.5" y1="266.5" y2="266.5" stroke-width="0.85"/>
<line x1="100.5" x2="109.0" y1="261.5" y2="261.5" stroke-width="0.85"/>
<line x1="1932.0" x2="1940.5" y1="261.5" y2="261.5" stroke-width="0.85"/>
<line x1="100.5" x2="109.0" y1="257.5" y2="257.5" stroke-width="0.85"/>
<line x1="1932.0" x2="1940.5" y1="257.5" y2="257.5" stroke-width="0.85"/>
<line x1="100.5" x2="109.0" y1="253.5" y2="253.5" stroke-width="0.85"/>
<line x1="1932.0" x2="1940.5" y1="253.5" y2="253.5" stroke-width="0.85"/>
<line x1="100.5" x2="109.0" y1="226.5" y2="226.5" stroke-width="0.85"/>
<line x1="1932.0" x2="1940.5" y1="226.5" y2="226.5" stroke-width="0.85"/>
<line x1="100.5" x2="109.0" y1="212.5" y2="212.5" stroke-width="0.85"/>
<line x1="1932.0" x2="1940.5" y1="212.5" y2="212.5" stroke-width="0.85"/>
<line x1="100.5" x2="109.0" y1="202.5" y2="202.5" stroke-width="0.85"/>
<line x1="1932.0" x2="1940.5" y1="202.5" y2="202.5" stroke-width="0.85"/>
<line x1="100.5" x2="109.0" y1="195.5" y2="195.5" stroke-width="0.85"/>
<line x1="1932.0" x2="1940.5" y1="195.5" y2="195.5" stroke-width="0.85"/>
<line x1="100.5" x2="109.0" y1="188.5" y2="188.5" stroke-width="0.85"/>
<line x1="1932.0" x2="1940.5" y1="188.5" y2="188.5" stroke-width="0.85"/>
<line x1="100.5" x2="109.0" y1="183.5" y2="183.5" stroke-width="0.85"/>
<line x1="1932.0" x2="1940.5" y1="183.5" y2="183.5" stroke-width="0.85"/>
<line x1="100.5" x2="109.0" y1="179.5" y2="179.5" stroke-width="0.85"/>
<line x1="1932.0" x2="1940.5" y1="179.5" y2="179.5" stroke-width="0.85"/>
<line x1="100.5" x2="109.0" y1="175.5" y2="175.5" stroke-width="0.85"/>
<line x1="1932.0" x2="1940.5" y1="175.5" y2="175.5" stroke-width="0.85"/>
<line x1="100.5" x2="109.0" y1="148.5" y2="148.5" stroke-width="0.85"/>
<line x1="1932.0" x2="1940.5" y1="148.5" y2="148.5" stroke-width="0.85"/>
<line x1="100.5" x2="109.0" y1="134.5" y2="134.5" stroke-width="0.85"/>
<line x1="1932.0" x2="1940.5" y1="134.5" y2="134.5" stroke-width="0.85"/>
<line x1="100.5" x2="109.0" y1="124.5" y2="124.5" stroke-width="0.85"/>
<line x1="1932.0" x2="1940.5" y1="124.5" y2="124.5" stroke-width="0.85"/>
<line x1="100.5" x2="109.0" y1="117.5" y2="117.5" stroke-width="0.85"/>
<line x1="1932.0" x2="1940.5" y1="117.5" y2="117.5" stroke-width="0.85"/>
<line x1="100.5" x2="109.0" y1="110.5" y2="110.5" stroke-width="0.85"/>
<line x1="1932.0" x2="1940.5" y1="110.5" y2="110.5" stroke-width="0.85"/>
<line x1="100.5" x2="109.0" y1="105.5" y2="105.5" stroke-width="0.85"/>
<line x1="1932.0" x2="1940.5" y1="105.5" y2="105.5" stroke-width="0.85"/>
<line x1="100.5" x2="109.0" y1="101.5" y2="101.5" stroke-width="0.85"/>
<line x1="1932.0" x2="1940.5" y1="101.5" y2="101.5" stroke-width="0.85"/>
<line x1="100.5" x2="109.0" y1="97.5" y2="97.5" stroke-width="0.85"/>
<line x1="1932.0" x2="1940.5" y1="97.5" y2="97.5" stroke-width="0.85"/>
<line x1="100.5" x2="109.0" y1="70.5" y2="70.5" stroke-width="0.85"/>
<line x1="1932.0" x2="1940.5" y1="70.5" y2="70.5" stroke-width="0.85"/>
<line x1="100.5" x2="109.0" y1="56.5" y2="56.5" stroke-width="0.85"/>
<line x1="1932.0" x2="1940.5" y1="56.5" y2="56.5" stroke-width="0.85"/>
<line x1="100.5" x2="109.0" y1="46.5" y2="46.5" stroke-width="0.85"/>
<line x1="1932.0" x2="1940.5" y1="46.5" y2="46.5" stroke-width="0.85"/>
<line x1="100.5" x2="109.0" y1="38.5" y2="38.5" stroke-width="0.85"/>
<line x1="1932.0" x2="1940.5" y1="38.5" y2="38.5" stroke-width="0.85"/>
<line x1="100.5" x2="109.0" y1="32.5" y2="32.5" stroke-width="0.85"/>
<line x1="1932.0" x2="1940.5" y1="32.5" y2="32.5" stroke-width="0.85"/>
<line x1="100.5" x2="109.0" y1="27.5" y2="27.5" stroke-width="0.85"/>
<line x1="1932.0" x2="1940.5" y1="27.5" y2="27.5" stroke-width="0.85"/>
<line x1="100.5" x2="109.0" y1="23.5" y2="23.5" stroke-width="0.85"/>
<line x1="1932.0" x2="1940.5" y1="23.5" y2="23.5" stroke-width="0.85"/>
<line x1="100.5" x2="109.0" y1="19.5" y2="19.5" stroke-width="0.85"/>
<line x1="1932.0" x2="1940.5" y1="19.5" y2="19.5" stroke-width="0.85"/>
<line x1="304.5" x2="304.5" y1="561.5" y2="553.0" stroke-width="0.85"/>
<line x1="509.5" x2="509.5" y1="561.5" y2="553.0" stroke-width="0.85"/>
<line x1="918.5" x2="918.5" y1="561.5" y2="553.0" stroke-width="0.85"/>
<line x1="1122.5" x2="1122.5" y1="561.5" y2="553.0" stroke-width="0.85"/>
<line x1="1531.5" x2="1531.5" y1="561.5" y2="553.0" stroke-width="0.85"/>
<line x1="1736.5" x2="1736.5" y1="561.5" y2="553.0" stroke-width="0.85"/>
</g>
<rect x="100.5" y="15.5" width="1840.0" height="546.0" fill="none" stroke="#000" stroke-width="1.2"/>
<g font-family="Liberation Sans, sans-serif" fill="#000">
<text x="99.90" y="581.6" font-size="21.2" text-anchor="middle" textLength="59.3" lengthAdjust="spacingAndGlyphs" >00:00</text>
<text x="99.90" y="604.8" font-size="21.2" text-anchor="middle" textLength="73" lengthAdjust="spacingAndGlyphs" >Aug 15</text>
<text x="304.34" y="581.6" font-size="21.2" text-anchor="middle" textLength="59.3" lengthAdjust="spacingAndGlyphs" >08:00</text>
<text x="508.79" y="581.6" font-size="21.2" text-anchor="middle" textLength="59.3" lengthAdjust="spacingAndGlyphs" >16:00</text>
<text x="713.23" y="581.6" font-size="21.2" text-anchor="middle" textLength="59.3" lengthAdjust="spacingAndGlyphs" >00:00</text>
<text x="713.23" y="604.8" font-size="21.2" text-anchor="middle" textLength="73" lengthAdjust="spacingAndGlyphs" >Aug 16</text>
<text x="917.68" y="581.6" font-size="21.2" text-anchor="middle" textLength="59.3" lengthAdjust="spacingAndGlyphs" >08:00</text>
<text x="1122.12" y="581.6" font-size="21.2" text-anchor="middle" textLength="59.3" lengthAdjust="spacingAndGlyphs" >16:00</text>
<text x="1326.57" y="581.6" font-size="21.2" text-anchor="middle" textLength="59.3" lengthAdjust="spacingAndGlyphs" >00:00</text>
<text x="1326.57" y="604.8" font-size="21.2" text-anchor="middle" textLength="73" lengthAdjust="spacingAndGlyphs" >Aug 17</text>
<text x="1531.01" y="581.6" font-size="21.2" text-anchor="middle" textLength="59.3" lengthAdjust="spacingAndGlyphs" >08:00</text>
<text x="1735.46" y="581.6" font-size="21.2" text-anchor="middle" textLength="59.3" lengthAdjust="spacingAndGlyphs" >16:00</text>
<text x="1939.90" y="581.6" font-size="21.2" text-anchor="middle" textLength="59.3" lengthAdjust="spacingAndGlyphs" >00:00</text>
<text x="1939.90" y="604.8" font-size="21.2" text-anchor="middle" textLength="73" lengthAdjust="spacingAndGlyphs" >Aug 18</text>
<text x="1019.6" y="630.8" font-size="21.2" text-anchor="middle" textLength="114.5" lengthAdjust="spacingAndGlyphs" >Time (UTC)</text>
<text x="72.4" y="493.0" font-size="22.4" text-anchor="end" textLength="24.6" lengthAdjust="spacingAndGlyphs" >10</text>
<text x="94.8" y="484.3" font-size="15.6" text-anchor="end" textLength="20.5" lengthAdjust="spacingAndGlyphs" >−8</text>
<text x="72.4" y="415.0" font-size="22.4" text-anchor="end" textLength="24.6" lengthAdjust="spacingAndGlyphs" >10</text>
<text x="94.8" y="406.3" font-size="15.6" text-anchor="end" textLength="20.5" lengthAdjust="spacingAndGlyphs" >−7</text>
<text x="72.4" y="337.0" font-size="22.4" text-anchor="end" textLength="24.6" lengthAdjust="spacingAndGlyphs" >10</text>
<text x="94.8" y="328.3" font-size="15.6" text-anchor="end" textLength="20.5" lengthAdjust="spacingAndGlyphs" >−6</text>
<text x="72.4" y="259.0" font-size="22.4" text-anchor="end" textLength="24.6" lengthAdjust="spacingAndGlyphs" >10</text>
<text x="94.8" y="250.3" font-size="15.6" text-anchor="end" textLength="20.5" lengthAdjust="spacingAndGlyphs" >−5</text>
<text x="72.4" y="181.0" font-size="22.4" text-anchor="end" textLength="24.6" lengthAdjust="spacingAndGlyphs" >10</text>
<text x="94.8" y="172.3" font-size="15.6" text-anchor="end" textLength="20.5" lengthAdjust="spacingAndGlyphs" >−4</text>
<text x="72.4" y="103.0" font-size="22.4" text-anchor="end" textLength="24.6" lengthAdjust="spacingAndGlyphs" >10</text>
<text x="94.8" y="94.3" font-size="15.6" text-anchor="end" textLength="20.5" lengthAdjust="spacingAndGlyphs" >−3</text>
<rect x="23.5" y="253.4" width="2.5" height="2.4" rx="0.5" fill="#000"/>
<g transform="translate(32,0) rotate(-90)">
<text x="-382.3" y="0" font-size="21.2" text-anchor="start" textLength="43.0" lengthAdjust="spacingAndGlyphs">Flux</text>
<text x="-332.6" y="0" font-size="21.2" text-anchor="start" textLength="67.6" lengthAdjust="spacingAndGlyphs">(Watts</text>
<text x="-244.4" y="0" font-size="21.2" text-anchor="start" textLength="19.6" lengthAdjust="spacingAndGlyphs">m</text>
<text x="-222.6" y="-7.6" font-size="16.6" text-anchor="start" textLength="18.8" lengthAdjust="spacingAndGlyphs">−2</text>
<text x="-200.6" y="0" font-size="21.2" text-anchor="start" textLength="6.8" lengthAdjust="spacingAndGlyphs">)</text>
</g>
<text x="1946.0" y="141.85" font-size="21.2" text-anchor="start" textLength="13.2" lengthAdjust="spacingAndGlyphs" >X</text>
<text x="1945.0" y="219.91" font-size="21.2" text-anchor="start" textLength="18.4" lengthAdjust="spacingAndGlyphs" >M</text>
<text x="1945.7" y="297.97" font-size="21.2" text-anchor="start" textLength="14.4" lengthAdjust="spacingAndGlyphs" >C</text>
<text x="1945.8" y="376.03" font-size="21.2" text-anchor="start" textLength="13.4" lengthAdjust="spacingAndGlyphs" >B</text>
<text x="1945.5" y="454.09" font-size="21.2" text-anchor="start" textLength="13.8" lengthAdjust="spacingAndGlyphs" >A</text>
<g transform="translate(1983,0) rotate(-90)"><text x="-349.2" y="0" font-size="21.2" text-anchor="start" textLength="57.6" lengthAdjust="spacingAndGlyphs">GOES</text><text x="-287.2" y="0" font-size="21.2" text-anchor="start" textLength="58" lengthAdjust="spacingAndGlyphs">Class</text></g>
<text x="1594.3" y="549.2" font-size="17" text-anchor="start" textLength="127.2" lengthAdjust="spacingAndGlyphs" >SolarMonitor.org</text>
<text x="1725.6" y="549.2" font-size="17" text-anchor="start" >:</text>
<text x="1737.0" y="549.2" font-size="17" text-anchor="start" textLength="180.6" lengthAdjust="spacingAndGlyphs" >18-Aug-2024 00:30 UTC</text>
</g>
<rect x="836.6" y="22.4" width="367.6" height="52" rx="2.5" ry="2.5" fill="#fff" fill-opacity="0.8" stroke="#ccc" stroke-width="1"/>
<g font-family="Liberation Sans, sans-serif" fill="#000" font-size="14.1">
<line x1="841" x2="870" y1="37.6" y2="37.6" stroke="#ffd700" stroke-width="1.3"/>
<text x="880.2" y="41.8" textLength="62.8" lengthAdjust="spacingAndGlyphs">GOES-18</text>
<text x="946.6" y="41.8" textLength="49" lengthAdjust="spacingAndGlyphs">1.0-8.0</text>
<text x="996.0" y="41.8" font-style="italic" textLength="9.8" lengthAdjust="spacingAndGlyphs">Å</text>
<line x1="841" x2="870" y1="61.6" y2="61.6" stroke="#ff0000" stroke-width="1.3"/>
<text x="880.2" y="65.8" textLength="62.8" lengthAdjust="spacingAndGlyphs">GOES-16</text>
<text x="946.6" y="65.8" textLength="49" lengthAdjust="spacingAndGlyphs">1.0-8.0</text>
<text x="996.0" y="65.8" font-style="italic" textLength="9.8" lengthAdjust="spacingAndGlyphs">Å</text>
<line x1="1034" x2="1063" y1="37.6" y2="37.6" stroke="#00ffff" stroke-width="1.3"/>
<text x="1073.2" y="41.8" textLength="62.8" lengthAdjust="spacingAndGlyphs">GOES-18</text>
<text x="1139.6" y="41.8" textLength="49" lengthAdjust="spacingAndGlyphs">0.5-4.0</text>
<text x="1189.0" y="41.8" font-style="italic" textLength="9.8" lengthAdjust="spacingAndGlyphs">Å</text>
<line x1="1034" x2="1063" y1="61.6" y2="61.6" stroke="#0000ff" stroke-width="1.3"/>
<text x="1073.2" y="65.8" textLength="62.8" lengthAdjust="spacingAndGlyphs">GOES-16</text>
<text x="1139.6" y="65.8" textLength="49" lengthAdjust="spacingAndGlyphs">0.5-4.0</text>
<text x="1189.0" y="65.8" font-style="italic" textLength="9.8" lengthAdjust="spacingAndGlyphs">Å</text>
</g>
</svg>
</body></html>
